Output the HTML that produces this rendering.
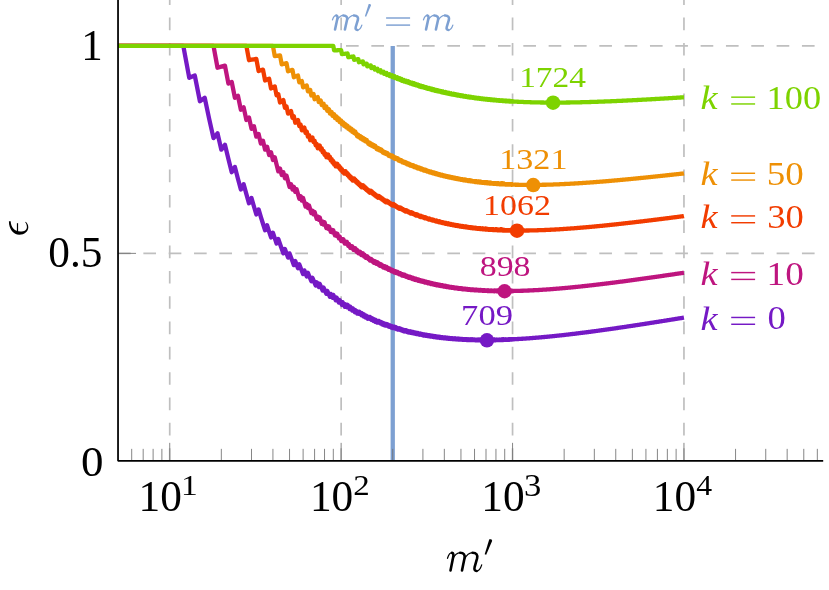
<!DOCTYPE html><html><head><meta charset="utf-8"><title>plot</title><style>html,body{margin:0;padding:0;background:#fff}svg{display:block;will-change:transform}text{font-family:"Liberation Serif",serif}</style></head><body>
<svg width="829" height="590" viewBox="0 0 829 590">
<rect width="829" height="590" fill="#fff"/>
<g stroke="#bfbfbf" stroke-width="1.7" stroke-dasharray="12.665 12.665" fill="none">
<path d="M169.73 460.85V-60"/>
<path d="M341.14 460.85V-60"/>
<path d="M512.55 460.85V-60"/>
<path d="M683.96 460.85V-60"/>
<path d="M118.03 253.38H823.2"/>
<path d="M118.03 45.90H823.2"/>
</g>
<path d="M392.74 45.90V460.85" stroke="#7da0d2" stroke-width="4.3" fill="none"/>
<g stroke="#707070" stroke-width="0.85" fill="none">
<path d="M131.70 460.85v-12M143.18 460.85v-12M153.12 460.85v-12M161.89 460.85v-12M221.33 460.85v-12M251.51 460.85v-12M272.93 460.85v-12M289.54 460.85v-12M303.11 460.85v-12M314.59 460.85v-12M324.53 460.85v-12M333.30 460.85v-12M392.74 460.85v-12M422.92 460.85v-12M444.34 460.85v-12M460.95 460.85v-12M474.52 460.85v-12M486.00 460.85v-12M495.94 460.85v-12M504.71 460.85v-12M564.15 460.85v-12M594.33 460.85v-12M615.75 460.85v-12M632.36 460.85v-12M645.93 460.85v-12M657.41 460.85v-12M667.35 460.85v-12M676.12 460.85v-12M735.56 460.85v-12M765.74 460.85v-12M787.16 460.85v-12M803.77 460.85v-12M817.34 460.85v-12"/>
</g>
<g stroke="#707070" stroke-width="0.85" fill="none">
<path d="M169.73 460.85v-18M341.14 460.85v-18M512.55 460.85v-18M683.96 460.85v-18M118.03 253.38h18M118.03 45.90h18"/>
</g>
<g fill="none" stroke-width="4.3" stroke-linejoin="round" stroke-linecap="butt">
<path stroke="#7519c5" d="M118.13,45.90 183.30,45.90 189.26,77.82 194.78,75.54 199.91,101.23 204.72,97.77 209.23,119.13 213.49,138.11 217.51,133.26 221.33,149.64 224.96,144.70 228.42,159.07 231.73,172.19 234.90,166.93 237.94,178.68 240.86,189.54 243.67,184.22 246.38,194.10 248.99,203.29 251.51,198.05 253.95,206.53 256.32,214.47 258.61,209.37 260.83,216.76 262.99,223.74 265.09,230.32 267.13,225.34 269.11,231.54 271.04,237.42 272.93,232.63 274.77,238.19 276.56,243.50 278.31,238.90 280.02,243.94 281.70,248.76 283.33,253.38 284.93,248.96 286.50,253.38 288.04,257.61 289.54,253.38 291.01,257.44 292.46,261.35 293.88,265.12 295.27,261.06 296.64,264.69 297.98,268.19 299.29,264.29 300.59,267.68 301.86,270.96 303.11,274.12 304.34,270.38 305.55,273.45 306.74,276.43 307.92,272.83 309.07,275.72 310.21,278.52 311.33,281.24 312.43,277.78 313.52,280.44 314.59,283.01 315.64,285.52 316.69,282.19 317.71,284.64 318.73,287.02 319.72,283.80 320.71,286.13 321.68,288.40 322.64,290.61 323.59,287.52 324.53,289.68 325.45,291.80 326.37,293.86 327.27,290.87 328.16,292.89 329.04,294.87 329.91,296.80 330.77,293.92 331.62,295.81 332.46,297.67 333.30,294.87 334.12,296.69 334.93,298.48 335.74,300.22 336.53,297.52 337.32,299.24 338.10,300.92 338.87,302.57 339.64,299.95 340.39,301.58 341.14,303.17 341.88,304.73 342.61,302.19 343.34,303.73 344.06,305.24 344.77,306.73 345.48,304.27 346.18,305.73 346.87,307.16 347.56,304.77 348.24,306.19 348.91,307.58 349.58,308.95 350.24,306.62 350.89,307.97 351.54,309.30 352.19,310.61 352.83,308.35 353.46,309.64 354.09,310.91 354.71,312.16 355.33,309.96 355.94,311.20 356.55,312.41 357.15,313.61 357.75,311.47 358.34,312.65 358.93,313.82 359.52,311.73 360.10,312.88 360.67,314.02 361.24,315.14 361.81,313.10 362.37,314.21 362.93,315.31 363.48,316.39 364.03,314.40 364.58,315.47 365.12,316.52 365.65,317.56 366.19,315.62 366.72,316.65 367.24,317.66 367.77,318.66 368.28,316.77 368.80,317.76 369.31,318.74 369.82,316.89 370.32,317.86 370.83,318.82 371.32,319.77 371.82,317.95 372.31,318.89 372.80,319.82 373.28,320.74 373.76,318.96 374.24,319.87 374.72,320.77 375.19,321.66 375.66,319.92 376.13,320.80 376.59,321.67 377.05,322.53 377.51,320.84 377.97,321.69 378.42,322.53 378.87,320.87 379.32,321.71 379.76,322.53 380.20,323.35 380.64,321.72 381.08,322.53 381.51,323.34 381.94,324.13 382.37,322.53 382.80,323.32 383.22,324.11 383.65,324.88 384.06,323.31 384.48,324.08 384.90,324.84 385.31,325.59 385.72,324.05 386.13,324.80 386.53,325.54 386.94,324.03 387.34,324.76 387.74,325.49 388.13,326.21 388.53,324.73 388.92,325.45 389.31,326.15 389.70,326.86 390.09,325.40 390.47,326.10 390.85,326.79 391.24,327.47 391.61,326.04 391.99,326.72 392.37,327.40 392.74,328.07 393.11,326.66 393.48,327.33 393.85,327.98 394.21,326.60 394.58,327.26 394.94,327.90 395.30,328.55 395.66,327.19 396.02,327.83 396.37,328.46 396.73,329.09 397.08,327.75 397.43,328.38 397.78,329.00 398.12,329.61 398.47,328.30 398.81,328.91 399.15,329.51 399.50,328.22 399.83,328.82 400.17,329.42 400.51,330.01 400.84,328.74 401.18,329.33 401.51,329.91 401.84,330.49 402.17,329.24 402.49,329.81 402.82,330.39 403.14,330.95 403.47,329.72 403.79,330.28 404.11,330.84 404.43,331.40 404.74,330.18 405.06,330.74 405.38,331.29 405.69,330.09 406.00,330.64 406.31,331.18 406.62,331.72 406.93,330.54 407.24,331.07 407.54,331.60 407.85,332.13 408.15,330.97 408.45,331.49 408.75,332.01 409.05,332.53 409.35,331.39 409.65,331.90 409.94,332.41 410.24,331.28 410.53,331.79 410.83,332.30 411.12,332.80 411.41,331.68 411.70,332.18 411.98,332.68 412.27,333.17 412.56,332.07 412.84,332.56 413.12,333.05 413.41,331.96 413.69,332.45 413.97,332.93 414.25,333.41 414.53,332.34 414.80,332.82 415.08,333.29 415.36,333.76 415.63,332.70 415.90,333.17 416.17,333.64 416.45,334.10 416.72,333.06 416.99,333.52 417.25,333.98 417.52,332.94 417.79,333.40 418.05,333.85 418.32,334.30 418.58,333.29 418.84,333.74 419.10,334.18 419.37,334.62 419.63,333.62 419.88,334.06 420.14,334.50 420.40,333.50 420.66,333.94 420.91,334.38 421.17,334.81 421.42,333.82 421.67,334.26 421.92,334.68 422.18,335.11 422.43,334.14 422.67,334.56 422.92,334.98 423.17,335.40 423.42,334.44 423.66,334.86 423.91,335.27 424.15,334.32 424.40,334.74 424.64,335.15 424.88,335.56 425.12,334.62 425.36,335.03 425.60,335.43 425.84,335.83 426.08,334.91 426.32,335.31 426.56,335.71 426.79,334.79 427.03,335.19 427.26,335.58 427.49,335.97 427.73,335.07 427.96,335.46 428.19,335.85 428.42,336.24 428.65,335.34 428.88,335.73 429.11,336.11 429.34,335.22 429.57,335.61 429.79,335.99 430.02,336.37 430.24,335.49 430.47,335.87 430.69,336.24 430.92,336.61 431.14,335.75 431.36,336.12 431.58,336.49 431.80,335.63 432.02,336.00 432.24,336.37 432.46,336.73 432.68,335.88 432.89,336.24 433.11,336.61 433.33,336.97 433.54,336.13 433.76,336.48 433.97,336.84 434.19,336.01 434.40,336.37 434.61,336.72 434.82,337.07 435.03,336.25 435.24,336.60 435.45,336.95 435.66,337.30 435.87,336.48 436.08,336.83 436.29,337.17 436.50,336.37 436.70,336.71 436.91,337.05 437.11,337.39 437.32,336.59 437.52,336.93 437.73,337.27 437.93,337.61 438.13,336.82 438.33,337.15 438.54,337.49 438.74,336.70 438.94,337.03 439.14,337.37 439.34,337.70 439.53,336.92 439.73,337.25 439.93,337.58 440.13,337.90 440.32,337.13 440.52,337.46 440.72,337.78 440.91,337.02 441.11,337.34 441.30,337.66 441.49,337.98 441.69,337.23 441.88,337.54 442.07,337.86 442.26,337.11 442.45,337.43 442.65,337.74 442.84,338.06 443.02,337.32 443.21,337.63 443.40,337.94 443.59,338.25 443.78,337.51 443.97,337.82 444.15,338.13 444.34,337.40 444.52,337.71 444.71,338.02 444.90,338.32 445.08,337.60 445.26,337.90 445.45,338.20 445.63,337.49 445.81,337.79 446.00,338.09 446.18,338.39 446.36,337.68 446.54,337.98 446.72,338.27 446.90,338.57 447.08,337.86 447.26,338.16 447.44,338.45 447.62,337.75 447.79,338.05 447.97,338.34 448.15,338.63 448.32,337.94 448.50,338.23 448.68,338.52 448.85,338.81 449.03,338.12 449.20,338.41 449.38,338.69 449.55,338.01 449.72,338.30 449.90,338.58 450.07,338.86 450.24,338.19 450.41,338.47 450.58,338.75 450.75,338.08 450.92,338.36 451.10,338.64 451.26,338.92 451.43,338.25 451.60,338.53 451.77,338.81 451.94,338.14 452.11,338.42 452.28,338.70 452.44,338.97 452.61,338.31 452.78,338.59 452.94,338.86 453.11,339.13 453.27,338.48 453.44,338.75 453.60,339.02 453.77,338.38 453.93,338.64 454.09,338.91 454.26,339.18 454.42,338.54 454.58,338.81 454.74,339.07 454.90,338.44 455.07,338.70 455.23,338.96 455.39,339.23 455.55,338.60 455.71,338.86 455.87,339.12 456.03,338.49 456.19,338.75 456.34,339.01 456.50,339.27 456.66,338.65 456.82,338.91 456.98,339.17 457.13,339.42 457.29,338.81 457.44,339.06 457.60,339.32 457.76,338.70 457.91,338.96 458.07,339.21 458.22,339.46 458.38,338.86 458.53,339.11 458.68,339.36 458.84,338.76 458.99,339.01 459.14,339.26 459.29,339.50 459.45,338.91 459.60,339.15 459.75,339.40 459.90,338.81 460.05,339.05 460.20,339.30 460.35,339.54 460.50,338.95 460.65,339.20 460.80,339.44 460.95,338.85 461.10,339.10 461.25,339.34 461.40,339.58 461.54,339.00 461.69,339.24 461.84,339.48 461.99,339.72 462.13,339.14 462.28,339.38 462.42,339.62 462.57,339.04 462.72,339.28 462.86,339.52 463.01,339.76 463.15,339.19 463.30,339.42 463.44,339.66 463.58,339.09 463.73,339.32 463.87,339.56 464.01,339.79 464.16,339.23 464.30,339.46 464.44,339.69 464.58,339.13 464.72,339.36 464.87,339.59 465.01,339.82 465.15,339.27 465.29,339.50 465.43,339.73 465.57,339.17 465.71,339.40 465.85,339.63 465.99,339.86 466.13,339.31 466.26,339.53 466.40,339.76 466.54,339.21 466.68,339.44 466.82,339.66 466.95,339.89 467.09,339.35 467.23,339.57 467.37,339.79 467.50,339.25 467.64,339.48 467.77,339.70 467.91,339.92 468.05,339.38 468.18,339.60 468.32,339.82 468.45,339.29 468.59,339.51 468.72,339.73 468.85,339.95 468.99,339.42 469.12,339.64 469.25,339.85 469.39,339.33 469.52,339.55 469.65,339.76 469.78,339.98 469.92,339.46 470.05,339.67 470.18,339.88 470.31,339.37 470.44,339.58 470.57,339.79 470.70,340.00 470.83,339.49 470.97,339.70 471.10,339.91 471.23,339.40 471.35,339.61 471.48,339.82 471.61,340.03 471.74,339.52 471.87,339.73 472.00,339.94 472.13,339.44 472.26,339.64 472.38,339.85 472.51,340.06 472.64,339.56 472.77,339.76 472.89,339.97 473.02,339.47 473.15,339.68 473.27,339.88 473.40,340.09 473.52,339.59 473.65,339.79 473.77,340.00 473.90,339.50 474.02,339.71 474.15,339.91 474.27,340.11 474.40,339.62 474.52,339.82 474.65,340.02 474.77,339.54 474.89,339.74 475.02,339.94 475.14,340.14 475.26,339.65 475.39,339.85 475.51,340.05 475.63,339.57 475.75,339.77 475.88,339.96 476.00,340.16 476.12,339.68 476.24,339.88 476.36,340.08 476.48,339.60 476.60,339.79 476.72,339.99 476.84,340.19 476.96,339.71 477.08,339.91 477.20,340.10 477.32,339.63 477.44,339.82 477.56,340.02 477.68,340.21 477.80,339.74 477.92,339.93 478.04,340.13 478.15,339.66 478.27,339.85 478.39,340.04 478.51,340.23 478.63,339.77 478.74,339.96 478.86,340.15 478.98,339.69 479.09,339.88 479.21,340.07 479.33,340.26 479.44,339.80 479.56,339.98 479.68,340.17 479.79,339.72 479.91,339.90 480.02,340.09 480.14,340.28 480.25,339.82 480.37,340.01 480.48,340.20 480.60,339.74 480.71,339.93 480.82,340.11 480.94,339.66 481.05,339.85 481.17,340.03 481.28,340.22 481.39,339.77 481.51,339.95 481.62,340.14 481.73,339.69 481.84,339.88 481.96,340.06 482.07,340.24 482.18,339.80 482.29,339.98 482.40,340.16 482.51,339.72 482.63,339.90 482.74,340.08 482.85,340.26 482.96,339.82 483.07,340.00 483.18,340.18 483.29,339.75 483.40,339.93 483.51,340.10 483.62,340.28 483.73,339.85 483.84,340.03 483.95,340.20 484.06,339.77 484.17,339.95 484.28,340.13 484.39,339.70 484.49,339.87 484.60,340.05 484.71,340.23 484.82,339.80 484.93,339.97 485.03,340.15 485.14,339.72 485.25,339.90 485.36,340.07 485.46,340.25 485.57,339.82 485.68,340.00 485.79,340.17 485.89,339.75 486.00,339.92 486.10,340.09 486.21,340.27 486.32,339.85 486.42,340.02 486.53,340.19 486.63,339.77 486.74,339.95 486.84,340.12 486.95,340.29 487.05,339.87 487.16,340.04 487.26,340.21 487.37,339.80 487.47,339.97 487.58,340.14 487.68,339.73 487.78,339.90 487.89,340.06 487.99,340.23 488.10,339.82 488.20,339.99 488.30,340.16 488.40,339.75 488.51,339.92 488.61,340.09 488.71,340.25 488.82,339.85 488.92,340.01 489.02,340.18 489.12,339.78 489.22,339.94 489.33,340.11 489.43,339.70 489.53,339.87 489.63,340.03 489.73,340.20 489.83,339.80 489.93,339.96 490.03,340.13 490.14,339.73 490.24,339.89 490.34,340.06 490.44,340.22 490.54,339.82 490.64,339.99 490.74,340.15 490.84,339.75 490.94,339.92 491.03,340.08 491.13,340.24 491.23,339.85 491.33,340.01 491.43,340.17 491.53,339.78 491.63,339.94 491.73,340.10 491.83,339.71 491.92,339.87 492.02,340.03 492.12,340.19 492.22,339.80 492.32,339.96 492.41,340.12 492.51,339.73 492.61,339.89 492.71,340.05 492.80,340.21 492.90,339.82 493.00,339.98 493.09,340.14 493.19,339.76 493.29,339.91 493.38,340.07 493.48,339.69 493.58,339.85 493.67,340.00 493.77,340.16 493.86,339.78 493.96,339.93 494.05,340.09 494.15,339.71 494.24,339.87 494.34,340.02 494.43,340.18 494.53,339.80 494.62,339.95 494.72,340.11 494.81,339.74 494.91,339.89 495.00,340.04 495.10,339.67 495.19,339.82 495.28,339.98 495.38,340.13 495.47,339.76 495.57,339.91 495.66,340.06 495.75,339.69 495.85,339.84 495.94,340.00 496.03,340.15 496.12,339.78 496.22,339.93 496.31,340.08 496.40,339.72 496.49,339.87 496.59,340.02 496.68,339.65 496.77,339.80 496.86,339.95 496.96,340.10 497.05,339.74 497.14,339.89 497.23,340.04 497.32,339.67 497.41,339.82 497.50,339.97 497.60,339.61 497.69,339.76 497.78,339.91 497.87,340.05 497.96,339.70 498.05,339.84 498.14,339.99 498.23,339.63 498.32,339.78 498.41,339.93 498.50,340.07 498.59,339.72 498.68,339.86 498.77,340.01 498.86,339.66 498.95,339.80 499.04,339.95 499.13,339.60 499.22,339.74 499.30,339.88 499.39,340.03 499.48,339.68 499.57,339.82 499.66,339.97 499.75,339.62 499.84,339.76 499.92,339.90 500.01,339.56 500.10,339.70 500.19,339.84 500.28,339.99 500.36,339.64 500.45,339.78 500.54,339.92 500.63,339.58 500.71,339.72 500.80,339.86 500.89,340.00 500.98,339.66 501.06,339.80 501.15,339.94 501.24,339.60 501.32,339.74 501.41,339.88 501.50,339.54 501.58,339.68 501.67,339.82 501.75,339.96 501.84,339.62 501.93,339.76 502.01,339.90 502.10,339.56 502.18,339.70 502.27,339.84 502.35,339.51 502.44,339.64 502.52,339.78 502.61,339.92 502.69,339.59 502.78,339.72 502.86,339.86 502.95,339.53 503.03,339.67 503.12,339.80 503.20,339.47 503.29,339.61 503.37,339.74 503.46,339.88 503.54,339.55 503.62,339.69 503.71,339.82 503.79,339.49 503.87,339.63 503.96,339.76 504.04,339.44 504.13,339.57 504.21,339.71 504.29,339.84 504.38,339.51 504.46,339.65 504.54,339.78 504.62,339.46 504.71,339.59 504.79,339.73 504.87,339.86 504.95,339.54 505.04,339.67 505.12,339.80 505.20,339.48 505.28,339.61 505.37,339.75 505.45,339.42 505.53,339.56 505.61,339.69 505.69,339.82 505.77,339.50 505.86,339.63 505.94,339.77 506.02,339.45 506.10,339.58 506.18,339.71 506.26,339.39 506.34,339.52 506.42,339.65 506.50,339.79 506.59,339.47 506.67,339.60 506.75,339.73 506.83,339.41 506.91,339.54 506.99,339.67 507.07,339.36 507.15,339.49 507.23,339.62 507.31,339.75 507.39,339.43 507.47,339.56 507.55,339.69 507.63,339.38 507.71,339.51 507.79,339.64 507.86,339.33 507.94,339.46 508.02,339.58 508.10,339.71 508.18,339.40 508.26,339.53 508.34,339.66 508.42,339.35 508.50,339.48 508.57,339.60 508.65,339.29 508.73,339.42 508.81,339.55 508.89,339.68 508.97,339.37 509.04,339.50 509.12,339.62 509.20,339.32 509.28,339.44 509.36,339.57 509.43,339.26 509.51,339.39 509.59,339.52 509.67,339.64 509.74,339.34 509.82,339.46 509.90,339.59 509.97,339.29 510.05,339.41 510.13,339.54 510.21,339.23 510.28,339.36 510.36,339.48 510.44,339.61 510.51,339.31 510.59,339.43 510.67,339.56 510.74,339.26 510.82,339.38 510.89,339.50 510.97,339.20 511.05,339.33 511.12,339.45 511.20,339.58 511.27,339.28 511.35,339.40 511.42,339.52 511.50,339.23 511.58,339.35 511.65,339.47 511.73,339.18 511.80,339.30 511.88,339.42 511.95,339.13 512.03,339.25 512.10,339.37 512.18,339.49 512.25,339.20 512.33,339.32 512.40,339.44 512.48,339.15 512.55,339.27 512.92,339.28 513.55,339.25 514.13,339.24 514.71,339.18 515.33,339.19 515.93,339.12 516.54,339.10 517.13,339.07 517.73,339.01 518.35,339.00 518.93,338.93 519.51,338.91 520.12,338.90 520.72,338.85 521.32,338.80 521.91,338.76 522.50,338.75 523.12,338.69 523.73,338.64 524.33,338.61 524.93,338.58 525.53,338.54 526.12,338.48 526.71,338.44 527.32,338.42 527.93,338.37 528.53,338.32 529.13,338.27 529.72,338.23 530.31,338.18 530.93,338.13 531.53,338.09 532.14,338.06 532.74,337.99 533.33,337.95 533.92,337.91 534.50,337.85 535.11,337.82 535.71,337.76 536.31,337.70 536.90,337.67 537.52,337.59 538.13,337.54 538.73,337.52 539.33,337.44 539.93,337.40 540.54,337.35 541.13,337.30 541.71,337.23 542.31,337.19 542.91,337.14 543.52,337.07 544.13,337.01 544.72,336.99 545.32,336.91 545.94,336.84 546.53,336.82 547.12,336.74 547.72,336.68 548.32,336.63 548.92,336.56 549.51,336.51 550.12,336.44 550.73,336.38 551.32,336.34 551.92,336.28 552.51,336.19 553.12,336.16 553.72,336.07 554.32,336.04 554.93,335.95 555.54,335.89 556.12,335.85 556.72,335.75 557.33,335.72 557.92,335.64 558.51,335.59 559.11,335.51 559.72,335.45 560.33,335.39 560.92,335.32 561.52,335.27 562.13,335.18 562.72,335.12 563.31,335.05 563.93,335.00 564.54,334.91 565.13,334.86 565.73,334.79 566.33,334.71 566.93,334.66 567.53,334.56 568.14,334.53 568.73,334.43 569.33,334.38 569.93,334.31 570.53,334.21 571.13,334.18 571.73,334.09 572.34,334.00 572.93,333.97 573.53,333.87 574.13,333.79 574.73,333.74 575.33,333.67 575.93,333.57 576.53,333.50 577.13,333.45 577.72,333.37 578.32,333.28 578.92,333.20 579.51,333.16 580.12,333.08 580.72,332.99 581.32,332.91 581.93,332.83 582.53,332.75 583.13,332.68 583.74,332.63 584.34,332.55 584.93,332.47 585.52,332.39 586.12,332.31 586.72,332.24 587.33,332.16 587.92,332.08 588.53,332.01 589.13,331.93 589.73,331.85 590.33,331.78 590.93,331.67 591.53,331.58 592.13,331.51 592.73,331.44 593.32,331.37 593.92,331.30 594.52,331.19 595.12,331.11 595.72,331.04 596.32,330.98 596.92,330.86 597.53,330.79 598.13,330.73 598.73,330.62 599.32,330.55 599.92,330.46 600.53,330.38 601.12,330.30 601.72,330.22 602.33,330.13 602.92,330.05 603.52,329.97 604.12,329.89 604.73,329.79 605.33,329.72 605.93,329.64 606.53,329.54 607.13,329.46 607.72,329.38 608.32,329.30 608.92,329.20 609.52,329.12 610.12,329.04 610.73,328.95 611.33,328.87 611.93,328.78 612.53,328.69 613.13,328.61 613.73,328.52 614.33,328.44 614.93,328.35 615.53,328.26 616.13,328.18 616.73,328.09 617.33,328.00 617.93,327.92 618.53,327.82 619.12,327.74 619.73,327.65 620.32,327.56 620.92,327.47 621.53,327.38 622.13,327.30 622.73,327.21 623.32,327.12 623.93,327.03 624.53,326.94 625.13,326.85 625.73,326.76 626.33,326.67 626.93,326.58 627.52,326.49 628.13,326.40 628.72,326.31 629.32,326.22 629.92,326.13 630.52,326.05 631.12,325.95 631.72,325.86 632.32,325.77 632.92,325.68 633.53,325.59 634.13,325.50 634.73,325.40 635.33,325.31 635.93,325.22 636.52,325.13 637.12,325.04 637.72,324.95 638.32,324.86 638.92,324.77 639.52,324.67 640.13,324.58 640.73,324.49 641.33,324.40 641.92,324.30 642.52,324.21 643.13,324.12 643.73,324.02 644.33,323.93 644.93,323.84 645.53,323.75 646.12,323.65 646.72,323.56 647.32,323.47 647.92,323.37 648.52,323.28 649.13,323.18 649.73,323.09 650.33,322.99 650.93,322.90 651.53,322.81 652.13,322.71 652.72,322.62 653.33,322.53 653.92,322.43 654.52,322.34 655.12,322.24 655.72,322.15 656.33,322.05 656.92,321.96 657.52,321.86 658.13,321.77 658.73,321.67 659.32,321.58 659.92,321.48 660.52,321.39 661.13,321.29 661.73,321.19 662.33,321.10 662.93,321.00 663.53,320.91 664.13,320.81 664.73,320.72 665.33,320.62 665.93,320.52 666.53,320.43 667.12,320.33 667.72,320.24 668.32,320.14 668.93,320.04 669.53,319.95 670.12,319.85 670.72,319.75 671.32,319.66 671.92,319.56 672.52,319.46 673.12,319.37 673.73,319.27 674.33,319.17 674.92,319.08 675.52,318.98 676.12,318.88 676.73,318.79 677.33,318.69 677.93,318.59 678.53,318.49 679.12,318.40 679.72,318.30 680.33,318.20 680.92,318.10 681.53,318.01 682.12,317.91 682.73,317.81 683.33,317.71 683.80,317.64 683.96,317.61"/>
<path stroke="#be157f" d="M118.13,45.90 213.49,45.90 217.51,67.74 221.33,66.65 224.96,65.66 228.42,83.62 231.73,81.98 234.90,97.77 237.94,95.69 240.86,109.74 243.67,107.37 246.38,120.00 248.99,117.44 251.51,128.89 253.95,126.21 256.32,136.67 258.61,133.92 260.83,143.54 262.99,140.75 265.09,149.64 267.13,146.83 269.11,155.10 271.04,152.30 272.93,160.01 274.77,157.23 276.56,164.46 278.31,171.35 280.02,168.50 281.70,175.00 283.33,172.19 284.93,178.33 286.50,175.57 288.04,181.39 289.54,186.98 291.01,184.22 292.46,189.54 293.88,186.83 295.27,191.90 296.64,189.25 297.98,194.10 299.29,198.78 300.59,196.14 301.86,200.63 303.11,198.05 304.34,202.36 305.55,206.53 306.74,203.98 307.92,207.99 309.07,205.50 310.21,209.37 311.33,213.12 312.43,210.66 313.52,214.29 314.59,211.88 315.64,215.39 316.69,218.80 317.71,216.43 318.73,219.73 319.72,217.41 320.71,220.62 321.68,223.74 322.64,221.46 323.59,224.49 324.53,222.25 325.45,225.20 326.37,228.07 327.27,225.88 328.16,228.68 329.04,226.53 329.91,229.25 330.77,231.91 331.62,229.80 332.46,232.39 333.30,230.32 334.12,232.86 334.93,235.33 335.74,233.30 336.53,235.72 337.32,233.72 338.10,236.09 338.87,238.40 339.64,236.44 340.39,238.71 341.14,240.93 341.88,239.00 342.61,241.17 343.34,239.27 344.06,241.41 344.77,243.50 345.48,241.63 346.18,243.68 346.87,241.85 347.56,243.86 348.24,245.83 348.91,244.03 349.58,245.97 350.24,247.87 350.89,246.10 351.54,247.96 352.19,246.22 352.83,248.06 353.46,249.86 354.09,248.14 354.71,249.92 355.33,248.23 355.94,249.97 356.55,251.69 357.15,250.03 357.75,251.72 358.34,253.38 358.93,251.74 359.52,253.38 360.10,251.77 360.67,253.38 361.24,254.96 361.81,253.38 362.37,254.93 362.93,253.38 363.48,254.91 364.03,256.43 364.58,254.89 365.12,256.38 365.65,257.85 366.19,256.34 366.72,257.79 367.24,256.30 367.77,257.73 368.28,259.14 368.80,257.67 369.31,259.06 369.82,260.43 370.32,258.98 370.83,260.34 371.32,258.91 371.82,260.25 372.31,261.56 372.80,260.16 373.28,261.46 373.76,262.74 374.24,261.35 374.72,262.63 375.19,261.25 375.66,262.51 376.13,263.75 376.59,262.40 377.05,263.62 377.51,262.28 377.97,263.50 378.42,264.69 378.87,263.37 379.32,264.56 379.76,265.72 380.20,264.42 380.64,265.58 381.08,264.29 381.51,265.44 381.94,266.57 382.37,265.30 382.80,266.42 383.22,267.52 383.65,266.27 384.06,267.36 384.48,266.12 384.90,267.21 385.31,268.28 385.72,267.05 386.13,268.11 386.53,266.91 386.94,267.95 387.34,268.99 387.74,267.80 388.13,268.83 388.53,269.84 388.92,268.66 389.31,269.67 389.70,268.50 390.09,269.50 390.47,270.49 390.85,269.33 391.24,270.31 391.61,271.28 391.99,270.14 392.37,271.10 392.74,269.97 393.11,270.92 393.48,271.86 393.85,270.75 394.21,271.68 394.58,272.60 394.94,271.50 395.30,272.42 395.66,271.33 396.02,272.24 396.37,273.13 396.73,272.06 397.08,272.95 397.43,271.88 397.78,272.77 398.12,273.64 398.47,272.59 398.81,273.45 399.15,274.31 399.50,273.27 399.83,274.12 400.17,273.09 400.51,273.94 400.84,274.77 401.18,273.75 401.51,274.58 401.84,275.41 402.17,274.40 402.49,275.21 402.82,274.21 403.14,275.02 403.47,275.83 403.79,274.84 404.11,275.64 404.43,274.65 404.74,275.45 405.06,276.23 405.38,275.26 405.69,276.04 406.00,276.81 406.31,275.85 406.62,276.62 406.93,275.67 407.24,276.43 407.54,277.18 407.85,276.24 408.15,276.99 408.45,277.73 408.75,276.80 409.05,277.54 409.35,276.61 409.65,277.35 409.94,278.07 410.24,277.16 410.53,277.88 410.83,276.97 411.12,277.69 411.41,278.40 411.70,277.50 411.98,278.21 412.27,278.91 412.56,278.02 412.84,278.72 413.12,277.83 413.41,278.52 413.69,279.21 413.97,278.33 414.25,279.02 414.53,279.70 414.80,278.83 415.08,279.50 415.36,278.64 415.63,279.31 415.90,279.97 416.17,279.12 416.45,279.78 416.72,278.93 416.99,279.59 417.25,280.24 417.52,279.40 417.79,280.05 418.05,280.69 418.32,279.86 418.58,280.50 418.84,279.67 419.10,280.31 419.37,280.94 419.63,280.12 419.88,280.75 420.14,279.94 420.40,280.56 420.66,281.18 420.91,280.38 421.17,280.99 421.42,281.60 421.67,280.80 421.92,281.41 422.18,280.62 422.43,281.22 422.67,281.82 422.92,281.04 423.17,281.64 423.42,280.86 423.66,281.45 423.91,282.04 424.15,281.27 424.40,281.85 424.64,282.44 424.88,281.67 425.12,282.25 425.36,281.48 425.60,282.06 425.84,282.63 426.08,281.88 426.32,282.45 426.56,281.70 426.79,282.26 427.03,282.83 427.26,282.08 427.49,282.64 427.73,283.20 427.96,282.46 428.19,283.01 428.42,282.28 428.65,282.83 428.88,283.38 429.11,282.65 429.34,283.20 429.57,282.47 429.79,283.01 430.02,283.55 430.24,282.84 430.47,283.37 430.69,283.90 430.92,283.19 431.14,283.72 431.36,283.01 431.58,283.54 431.80,284.07 432.02,283.36 432.24,283.89 432.46,283.19 432.68,283.71 432.89,284.22 433.11,283.53 433.33,284.05 433.54,284.56 433.76,283.87 433.97,284.38 434.19,283.69 434.40,284.20 434.61,284.70 434.82,284.02 435.03,284.53 435.24,283.85 435.45,284.35 435.66,284.85 435.87,284.18 436.08,284.67 436.29,285.16 436.50,284.50 436.70,284.98 436.91,284.32 437.11,284.81 437.32,285.29 437.52,284.64 437.73,285.12 437.93,284.47 438.13,284.95 438.33,285.42 438.54,284.78 438.74,285.25 438.94,284.61 439.14,285.08 439.34,285.55 439.53,284.91 439.73,285.38 439.93,285.84 440.13,285.21 440.32,285.67 440.52,285.04 440.72,285.50 440.91,285.96 441.11,285.34 441.30,285.79 441.49,285.17 441.69,285.62 441.88,286.08 442.07,285.46 442.26,285.91 442.45,285.29 442.65,285.74 442.84,286.19 443.02,285.58 443.21,286.02 443.40,286.47 443.59,285.86 443.78,286.30 443.97,285.70 444.15,286.13 444.34,286.57 444.52,285.97 444.71,286.41 444.90,285.81 445.08,286.24 445.26,286.67 445.45,286.08 445.63,286.51 445.81,285.92 446.00,286.35 446.18,286.77 446.36,286.19 446.54,286.61 446.72,287.03 446.90,286.45 447.08,286.87 447.26,286.29 447.44,286.71 447.62,287.13 447.79,286.55 447.97,286.97 448.15,286.39 448.32,286.81 448.50,287.22 448.68,286.65 448.85,287.06 449.03,286.49 449.20,286.90 449.38,287.31 449.55,286.75 449.72,287.15 449.90,287.55 450.07,286.99 450.24,287.40 450.41,286.84 450.58,287.24 450.75,287.64 450.92,287.08 451.10,287.48 451.26,286.93 451.43,287.33 451.60,287.72 451.77,287.17 451.94,287.56 452.11,287.02 452.28,287.41 452.44,287.80 452.61,287.26 452.78,287.65 452.94,287.11 453.11,287.49 453.27,287.88 453.44,287.34 453.60,287.73 453.77,288.11 453.93,287.57 454.09,287.95 454.26,287.42 454.42,287.80 454.58,288.18 454.74,287.65 454.90,288.03 455.07,287.51 455.23,287.88 455.39,288.25 455.55,287.73 455.71,288.10 455.87,287.58 456.03,287.95 456.19,288.32 456.34,287.81 456.50,288.17 456.66,287.66 456.82,288.03 456.98,288.39 457.13,287.88 457.29,288.24 457.44,288.61 457.60,288.10 457.76,288.46 457.91,287.95 458.07,288.31 458.22,288.67 458.38,288.17 458.53,288.53 458.68,288.03 458.84,288.38 458.99,288.74 459.14,288.24 459.29,288.59 459.45,288.10 459.60,288.45 459.75,288.80 459.90,288.30 460.05,288.65 460.20,288.16 460.35,288.51 460.50,288.86 460.65,288.37 460.80,288.72 460.95,288.23 461.10,288.58 461.25,288.92 461.40,288.44 461.54,288.78 461.69,288.30 461.84,288.64 461.99,288.98 462.13,288.50 462.28,288.84 462.42,289.17 462.57,288.70 462.72,289.03 462.86,288.56 463.01,288.90 463.15,289.23 463.30,288.76 463.44,289.09 463.58,288.62 463.73,288.95 463.87,289.28 464.01,288.82 464.16,289.15 464.30,288.68 464.44,289.01 464.58,289.34 464.72,288.87 464.87,289.20 465.01,288.74 465.15,289.07 465.29,289.39 465.43,288.93 465.57,289.25 465.71,288.80 465.85,289.12 465.99,289.44 466.13,288.99 466.26,289.31 466.40,288.85 466.54,289.17 466.68,289.49 466.82,289.04 466.95,289.36 467.09,288.91 467.23,289.23 467.37,289.54 467.50,289.09 467.64,289.41 467.77,289.72 467.91,289.28 468.05,289.59 468.18,289.15 468.32,289.46 468.45,289.77 468.59,289.33 468.72,289.64 468.85,289.20 468.99,289.51 469.12,289.81 469.25,289.38 469.39,289.68 469.52,289.25 469.65,289.55 469.78,289.86 469.92,289.43 470.05,289.73 470.18,289.30 470.31,289.60 470.44,289.90 470.57,289.47 470.70,289.77 470.83,289.35 470.97,289.65 471.10,289.95 471.23,289.52 471.35,289.82 471.48,289.39 471.61,289.69 471.74,289.99 471.87,289.57 472.00,289.86 472.13,289.44 472.26,289.74 472.38,290.03 472.51,289.61 472.64,289.90 472.77,289.49 472.89,289.78 473.02,290.07 473.15,289.66 473.27,289.95 473.40,289.53 473.52,289.82 473.65,290.11 473.77,289.70 473.90,289.99 474.02,289.58 474.15,289.87 474.27,290.15 474.40,289.74 474.52,290.03 474.65,289.62 474.77,289.91 474.89,290.19 475.02,289.79 475.14,290.07 475.26,289.67 475.39,289.95 475.51,290.23 475.63,289.83 475.75,290.11 475.88,289.71 476.00,289.99 476.12,290.27 476.24,289.87 476.36,290.15 476.48,289.75 476.60,290.03 476.72,290.30 476.84,289.91 476.96,290.19 477.08,289.79 477.20,290.07 477.32,290.34 477.44,289.95 477.56,290.22 477.68,289.83 477.80,290.11 477.92,290.38 478.04,289.99 478.15,290.26 478.27,289.87 478.39,290.14 478.51,290.41 478.63,290.03 478.74,290.30 478.86,289.91 478.98,290.18 479.09,290.45 479.21,290.06 479.33,290.33 479.44,290.60 479.56,290.22 479.68,290.48 479.79,290.10 479.91,290.37 480.02,290.63 480.14,290.25 480.25,290.52 480.37,290.14 480.48,290.40 480.60,290.03 480.71,290.29 480.82,290.55 480.94,290.17 481.05,290.44 481.17,290.06 481.28,290.32 481.39,290.58 481.51,290.21 481.62,290.47 481.73,290.10 481.84,290.36 481.96,290.61 482.07,290.25 482.18,290.50 482.29,290.13 482.40,290.39 482.51,290.65 482.63,290.28 482.74,290.53 482.85,290.17 482.96,290.42 483.07,290.68 483.18,290.31 483.29,290.57 483.40,290.20 483.51,290.46 483.62,290.71 483.73,290.35 483.84,290.60 483.95,290.24 484.06,290.49 484.17,290.74 484.28,290.38 484.39,290.63 484.49,290.27 484.60,290.52 484.71,290.77 484.82,290.41 484.93,290.66 485.03,290.31 485.14,290.55 485.25,290.80 485.36,290.45 485.46,290.69 485.57,290.34 485.68,290.58 485.79,290.83 485.89,290.48 486.00,290.72 486.10,290.37 486.21,290.61 486.32,290.86 486.42,290.51 486.53,290.75 486.63,290.40 486.74,290.64 486.84,290.88 486.95,290.54 487.05,290.78 487.16,290.43 487.26,290.67 487.37,290.91 487.47,290.57 487.58,290.81 487.68,290.47 487.78,290.70 487.89,290.94 487.99,290.60 488.10,290.84 488.20,290.50 488.30,290.73 488.40,290.97 488.51,290.63 488.61,290.86 488.71,290.53 488.82,290.76 488.92,290.99 489.02,290.66 489.12,290.89 489.22,290.56 489.33,290.79 489.43,291.02 489.53,290.69 489.63,290.92 489.73,290.59 489.83,290.82 489.93,291.05 490.03,290.71 490.14,290.94 490.24,290.61 490.34,290.84 490.44,291.07 490.54,290.74 490.64,290.97 490.74,290.64 490.84,290.87 490.94,290.54 491.03,290.77 491.13,291.00 491.23,290.67 491.33,290.90 491.43,290.57 491.53,290.80 491.63,291.02 491.73,290.70 491.83,290.92 491.92,290.60 492.02,290.82 492.12,291.05 492.22,290.73 492.32,290.95 492.41,290.63 492.51,290.85 492.61,291.07 492.71,290.75 492.80,290.97 492.90,290.66 493.00,290.88 493.09,291.10 493.19,290.78 493.29,291.00 493.38,290.68 493.48,290.90 493.58,291.12 493.67,290.81 493.77,291.02 493.86,290.71 493.96,290.93 494.05,291.15 494.15,290.83 494.24,291.05 494.34,290.74 494.43,290.95 494.53,291.17 494.62,290.86 494.72,291.07 494.81,290.76 494.91,290.98 495.00,290.67 495.10,290.88 495.19,291.10 495.28,290.79 495.38,291.00 495.47,290.69 495.57,290.91 495.66,291.12 495.75,290.81 495.85,291.03 495.94,290.72 496.03,290.93 496.12,291.14 496.22,290.84 496.31,291.05 496.40,290.75 496.49,290.96 496.59,291.17 496.68,290.86 496.77,291.07 496.86,290.77 496.96,290.98 497.05,291.19 497.14,290.89 497.23,291.10 497.32,290.80 497.41,291.01 497.50,291.21 497.60,290.91 497.69,291.12 497.78,290.82 497.87,291.03 497.96,290.73 498.05,290.94 498.14,291.14 498.23,290.85 498.32,291.05 498.41,290.76 498.50,290.96 498.59,291.17 498.68,290.87 498.77,291.08 498.86,290.78 498.95,290.98 499.04,291.19 499.13,290.89 499.22,291.10 499.30,290.80 499.39,291.01 499.48,291.21 499.57,290.92 499.66,291.12 499.75,290.83 499.84,291.03 499.92,291.23 500.01,290.94 500.10,291.14 500.19,290.85 500.28,291.05 500.36,291.25 500.45,290.96 500.54,291.16 500.63,290.88 500.71,291.08 500.80,290.79 500.89,290.99 500.98,291.19 501.06,290.90 501.15,291.10 501.24,290.81 501.32,291.01 501.41,291.21 501.50,290.92 501.58,291.12 501.67,290.84 501.75,291.03 501.84,291.23 501.93,290.95 502.01,291.14 502.10,290.86 502.18,291.05 502.27,291.25 502.35,290.97 502.44,291.16 502.52,290.88 502.61,291.08 502.69,290.80 502.78,290.99 502.86,291.18 502.95,290.90 503.03,291.10 503.12,290.82 503.20,291.01 503.29,291.20 503.37,290.93 503.46,291.12 503.54,290.84 503.62,291.03 503.71,291.23 503.79,290.95 503.87,291.14 503.96,290.86 504.04,291.06 504.13,291.25 504.21,290.97 504.29,291.16 504.38,290.89 504.46,291.08 504.54,291.27 504.62,290.99 504.71,291.18 504.79,290.91 504.87,291.10 504.95,290.83 505.04,291.01 505.12,291.20 505.20,290.93 505.28,291.12 505.37,290.85 505.45,291.04 505.53,291.22 505.61,290.95 505.69,291.14 505.77,290.87 505.86,291.06 505.94,291.24 506.02,290.97 506.10,291.16 506.18,290.89 506.26,291.08 506.34,290.81 506.42,291.00 506.50,291.18 506.59,290.91 506.67,291.10 506.75,290.83 506.83,291.02 506.91,291.20 506.99,290.94 507.07,291.12 507.15,290.85 507.23,291.04 507.31,291.22 507.39,290.96 507.47,291.14 507.55,290.88 507.63,291.06 507.71,291.24 507.79,290.98 507.86,291.16 507.94,290.90 508.02,291.08 508.10,290.82 508.18,291.00 508.26,291.18 508.34,290.92 508.42,291.10 508.50,290.84 508.57,291.02 508.65,291.20 508.73,290.94 508.81,291.12 508.89,290.86 508.97,291.04 509.04,291.22 509.12,290.96 509.20,291.14 509.28,290.88 509.36,291.06 509.43,290.80 509.51,290.98 509.59,291.16 509.67,290.90 509.74,291.08 509.82,290.82 509.90,291.00 509.97,291.18 510.05,290.92 510.13,291.10 510.21,290.84 510.28,291.02 510.36,291.19 510.44,290.94 510.51,291.12 510.59,290.87 510.67,291.04 510.74,291.21 510.82,290.96 510.89,291.14 510.97,290.89 511.05,291.06 511.12,290.81 511.20,290.98 511.27,291.16 511.35,290.91 511.42,291.08 511.50,290.83 511.58,291.00 511.65,291.17 511.73,290.93 511.80,291.10 511.88,290.85 511.95,291.02 512.03,291.19 512.10,290.95 512.18,291.12 512.25,290.87 512.33,291.04 512.40,290.80 512.48,290.97 512.55,291.14 512.92,290.97 513.55,290.99 514.13,290.95 514.71,290.91 515.33,290.95 515.93,290.89 516.54,290.94 517.13,290.88 517.73,290.88 518.35,290.89 518.93,290.84 519.51,290.83 520.12,290.84 520.72,290.76 521.32,290.77 521.91,290.78 522.50,290.75 523.12,290.73 523.73,290.71 524.33,290.69 524.93,290.64 525.53,290.65 526.12,290.61 526.71,290.62 527.32,290.55 527.93,290.52 528.53,290.52 529.13,290.49 529.72,290.46 530.31,290.42 530.93,290.39 531.53,290.37 532.14,290.36 532.74,290.31 533.33,290.27 533.92,290.26 534.50,290.21 535.11,290.18 535.71,290.17 536.31,290.14 536.90,290.08 537.52,290.04 538.13,290.03 538.73,289.99 539.33,289.98 539.93,289.91 540.54,289.89 541.13,289.84 541.71,289.81 542.31,289.77 542.91,289.71 543.52,289.69 544.13,289.64 544.72,289.60 545.32,289.58 545.94,289.53 546.53,289.48 547.12,289.46 547.72,289.41 548.32,289.35 548.92,289.31 549.51,289.29 550.12,289.24 550.73,289.19 551.32,289.14 551.92,289.08 552.51,289.04 553.12,289.00 553.72,288.95 554.32,288.90 554.93,288.86 555.54,288.80 556.12,288.76 556.72,288.71 557.33,288.67 557.92,288.62 558.51,288.57 559.11,288.54 559.72,288.45 560.33,288.41 560.92,288.37 561.52,288.32 562.13,288.26 562.72,288.22 563.31,288.16 563.93,288.09 564.54,288.05 565.13,287.99 565.73,287.95 566.33,287.88 566.93,287.82 567.53,287.77 568.14,287.71 568.73,287.66 569.33,287.60 569.93,287.55 570.53,287.49 571.13,287.43 571.73,287.37 572.34,287.32 572.93,287.26 573.53,287.19 574.13,287.14 574.73,287.08 575.33,287.01 575.93,286.95 576.53,286.89 577.13,286.83 577.72,286.77 578.32,286.71 578.92,286.65 579.51,286.58 580.12,286.52 580.72,286.47 581.32,286.40 581.93,286.33 582.53,286.26 583.13,286.20 583.74,286.14 584.34,286.08 584.93,286.01 585.52,285.94 586.12,285.88 586.72,285.82 587.33,285.75 587.92,285.68 588.53,285.62 589.13,285.54 589.73,285.48 590.33,285.41 590.93,285.34 591.53,285.28 592.13,285.21 592.73,285.14 593.32,285.07 593.92,285.00 594.52,284.94 595.12,284.87 595.72,284.80 596.32,284.72 596.92,284.65 597.53,284.58 598.13,284.51 598.73,284.44 599.32,284.37 599.92,284.30 600.53,284.22 601.12,284.16 601.72,284.08 602.33,284.01 602.92,283.94 603.52,283.86 604.12,283.79 604.73,283.72 605.33,283.65 605.93,283.57 606.53,283.49 607.13,283.43 607.72,283.35 608.32,283.28 608.92,283.20 609.52,283.13 610.12,283.05 610.73,282.98 611.33,282.90 611.93,282.82 612.53,282.75 613.13,282.67 613.73,282.60 614.33,282.52 614.93,282.44 615.53,282.37 616.13,282.29 616.73,282.21 617.33,282.13 617.93,282.05 618.53,281.98 619.12,281.90 619.73,281.82 620.32,281.74 620.92,281.67 621.53,281.59 622.13,281.51 622.73,281.43 623.32,281.35 623.93,281.27 624.53,281.19 625.13,281.11 625.73,281.03 626.33,280.95 626.93,280.87 627.52,280.79 628.13,280.71 628.72,280.63 629.32,280.55 629.92,280.47 630.52,280.39 631.12,280.31 631.72,280.23 632.32,280.15 632.92,280.06 633.53,279.98 634.13,279.90 634.73,279.82 635.33,279.74 635.93,279.65 636.52,279.57 637.12,279.49 637.72,279.41 638.32,279.32 638.92,279.24 639.52,279.16 640.13,279.07 640.73,278.99 641.33,278.91 641.92,278.83 642.52,278.74 643.13,278.66 643.73,278.57 644.33,278.49 644.93,278.40 645.53,278.32 646.12,278.24 646.72,278.15 647.32,278.07 647.92,277.99 648.52,277.90 649.13,277.82 649.73,277.73 650.33,277.65 650.93,277.56 651.53,277.47 652.13,277.39 652.72,277.30 653.33,277.22 653.92,277.13 654.52,277.05 655.12,276.96 655.72,276.87 656.33,276.79 656.92,276.70 657.52,276.62 658.13,276.53 658.73,276.44 659.32,276.36 659.92,276.27 660.52,276.18 661.13,276.10 661.73,276.01 662.33,275.92 662.93,275.84 663.53,275.75 664.13,275.66 664.73,275.57 665.33,275.49 665.93,275.40 666.53,275.31 667.12,275.23 667.72,275.14 668.32,275.05 668.93,274.96 669.53,274.87 670.12,274.79 670.72,274.70 671.32,274.61 671.92,274.52 672.52,274.43 673.12,274.35 673.73,274.26 674.33,274.17 674.92,274.08 675.52,273.99 676.12,273.91 676.73,273.82 677.33,273.73 677.93,273.64 678.53,273.55 679.12,273.46 679.72,273.37 680.33,273.28 680.92,273.19 681.53,273.10 682.12,273.02 682.73,272.93 683.33,272.84 683.80,272.77 683.96,272.75"/>
<path stroke="#f23c00" d="M118.13,45.90 246.38,45.90 248.99,60.21 251.51,59.73 253.95,59.29 256.32,58.87 258.61,71.05 260.83,70.31 262.99,69.61 265.09,80.48 267.13,79.54 269.11,78.66 271.04,88.46 272.93,87.40 274.77,86.38 276.56,95.30 278.31,94.15 280.02,102.48 281.70,101.23 283.33,100.02 284.93,107.70 286.50,106.41 288.04,113.65 289.54,112.29 291.01,110.99 292.46,117.72 293.88,116.36 295.27,122.74 296.64,121.35 297.98,120.00 299.29,125.98 300.59,124.60 301.86,130.30 303.11,128.89 304.34,127.53 305.55,132.91 306.74,131.52 307.92,136.67 309.07,135.27 310.21,140.21 311.33,138.80 312.43,137.43 313.52,142.12 314.59,140.75 315.64,145.25 316.69,143.87 317.71,148.22 318.73,146.83 319.72,145.49 320.71,149.64 321.68,148.29 322.64,152.30 323.59,150.95 324.53,154.82 325.45,153.48 326.37,157.23 327.27,155.89 328.16,154.58 329.04,158.18 329.91,156.88 330.77,160.37 331.62,159.07 332.46,162.46 333.30,161.16 334.12,164.46 334.93,163.17 335.74,166.37 336.53,165.09 337.32,163.83 338.10,166.93 338.87,165.68 339.64,168.69 340.39,167.45 341.14,170.39 341.88,169.15 342.61,172.01 343.34,170.79 344.06,173.58 344.77,172.36 345.48,171.17 346.18,173.88 346.87,172.69 347.56,175.33 348.24,174.16 348.91,176.74 349.58,175.57 350.24,178.10 350.89,176.94 351.54,179.41 352.19,178.25 352.83,180.67 353.46,179.53 354.09,178.41 354.71,180.76 355.33,179.64 355.94,181.95 356.55,180.84 357.15,183.10 357.75,182.00 358.34,184.22 358.93,183.13 359.52,185.30 360.10,184.22 360.67,186.34 361.24,185.27 361.81,187.36 362.37,186.30 362.93,185.25 363.48,187.29 364.03,186.25 364.58,188.26 365.12,187.22 365.65,189.19 366.19,188.17 366.72,190.10 367.24,189.09 367.77,190.99 368.28,189.98 368.80,191.85 369.31,190.85 369.82,192.69 370.32,191.69 370.83,190.71 371.32,192.52 371.82,191.54 372.31,193.32 372.80,192.35 373.28,194.10 373.76,193.14 374.24,194.86 374.72,193.91 375.19,195.60 375.66,194.66 376.13,196.32 376.59,195.39 377.05,197.02 377.51,196.10 377.97,197.71 378.42,196.79 378.87,195.88 379.32,197.47 379.76,196.57 380.20,198.13 380.64,197.23 381.08,198.78 381.51,197.89 381.94,199.41 382.37,198.53 382.80,200.02 383.22,199.15 383.65,200.63 384.06,199.76 384.48,201.22 384.90,200.35 385.31,201.79 385.72,200.94 386.13,202.36 386.53,201.51 386.94,200.67 387.34,202.06 387.74,201.23 388.13,202.61 388.53,201.78 388.92,203.14 389.31,202.32 389.70,203.67 390.09,202.85 390.47,204.18 390.85,203.37 391.24,204.68 391.61,203.88 391.99,205.17 392.37,204.37 392.74,205.66 393.11,204.86 393.48,204.07 393.85,205.34 394.21,204.56 394.58,205.81 394.94,205.03 395.30,206.27 395.66,205.50 396.02,206.72 396.37,205.95 396.73,207.16 397.08,206.40 397.43,207.59 397.78,206.84 398.12,208.02 398.47,207.27 398.81,208.44 399.15,207.69 399.50,208.85 399.83,208.11 400.17,207.37 400.51,208.52 400.84,207.79 401.18,208.92 401.51,208.19 401.84,209.31 402.17,208.59 402.49,209.70 402.82,208.98 403.14,210.08 403.47,209.37 403.79,210.45 404.11,209.74 404.43,210.82 404.74,210.11 405.06,211.18 405.38,210.48 405.69,211.53 406.00,210.84 406.31,210.15 406.62,211.19 406.93,210.51 407.24,211.54 407.54,210.86 407.85,211.88 408.15,211.21 408.45,212.22 408.75,211.55 409.05,212.55 409.35,211.88 409.65,212.87 409.94,212.21 410.24,213.19 410.53,212.53 410.83,213.51 411.12,212.85 411.41,212.20 411.70,213.17 411.98,212.52 412.27,213.48 412.56,212.83 412.84,213.78 413.12,213.14 413.41,214.08 413.69,213.45 413.97,214.38 414.25,213.74 414.53,214.67 414.80,214.04 415.08,214.95 415.36,214.33 415.63,215.24 415.90,214.62 416.17,215.51 416.45,214.90 416.72,214.29 416.99,215.18 417.25,214.57 417.52,215.45 417.79,214.84 418.05,215.72 418.32,215.12 418.58,215.99 418.84,215.39 419.10,216.25 419.37,215.65 419.63,216.51 419.88,215.91 420.14,216.76 420.40,216.17 420.66,217.01 420.91,216.43 421.17,215.85 421.42,216.68 421.67,216.10 421.92,216.93 422.18,216.35 422.43,217.17 422.67,216.60 422.92,217.41 423.17,216.84 423.42,217.65 423.66,217.08 423.91,217.89 424.15,217.32 424.40,218.12 424.64,217.56 424.88,218.35 425.12,217.79 425.36,217.23 425.60,218.02 425.84,217.47 426.08,218.24 426.32,217.69 426.56,218.47 426.79,217.92 427.03,218.69 427.26,218.14 427.49,218.90 427.73,218.36 427.96,219.12 428.19,218.58 428.42,219.33 428.65,218.80 428.88,219.54 429.11,219.01 429.34,218.48 429.57,219.22 429.79,218.69 430.02,219.42 430.24,218.90 430.47,219.63 430.69,219.11 430.92,219.83 431.14,219.31 431.36,220.03 431.58,219.51 431.80,220.23 432.02,219.71 432.24,220.42 432.46,219.91 432.68,220.62 432.89,220.11 433.11,219.60 433.33,220.30 433.54,219.80 433.76,220.49 433.97,219.99 434.19,220.68 434.40,220.18 434.61,220.86 434.82,220.37 435.03,221.05 435.24,220.55 435.45,221.23 435.66,220.74 435.87,221.41 436.08,220.92 436.29,221.59 436.50,221.10 436.70,220.62 436.91,221.28 437.11,220.80 437.32,221.46 437.52,220.97 437.73,221.63 437.93,221.15 438.13,221.80 438.33,221.33 438.54,221.97 438.74,221.50 438.94,222.14 439.14,221.67 439.34,222.31 439.53,221.84 439.73,221.37 439.93,222.01 440.13,221.54 440.32,222.17 440.52,221.71 440.72,222.34 440.91,221.87 441.11,222.50 441.30,222.04 441.49,222.66 441.69,222.20 441.88,222.82 442.07,222.36 442.26,222.97 442.45,222.52 442.65,223.13 442.84,222.68 443.02,222.23 443.21,222.83 443.40,222.39 443.59,222.99 443.78,222.54 443.97,223.14 444.15,222.70 444.34,223.29 444.52,222.85 444.71,223.44 444.90,223.00 445.08,223.59 445.26,223.15 445.45,223.74 445.63,223.30 445.81,222.86 446.00,223.45 446.18,223.01 446.36,223.59 446.54,223.16 446.72,223.74 446.90,223.31 447.08,223.88 447.26,223.45 447.44,224.02 447.62,223.59 447.79,224.16 447.97,223.74 448.15,224.30 448.32,223.88 448.50,223.46 448.68,224.02 448.85,223.60 449.03,224.15 449.20,223.74 449.38,224.29 449.55,223.87 449.72,224.43 449.90,224.01 450.07,224.56 450.24,224.15 450.41,224.69 450.58,224.28 450.75,224.82 450.92,224.41 451.10,224.01 451.26,224.55 451.43,224.14 451.60,224.68 451.77,224.27 451.94,224.81 452.11,224.40 452.28,224.93 452.44,224.53 452.61,225.06 452.78,224.66 452.94,225.19 453.11,224.79 453.27,225.31 453.44,224.92 453.60,224.52 453.77,225.04 453.93,224.65 454.09,225.17 454.26,224.77 454.42,225.29 454.58,224.90 454.74,225.41 454.90,225.02 455.07,225.53 455.23,225.14 455.39,225.65 455.55,225.27 455.71,225.77 455.87,225.39 456.03,225.00 456.19,225.51 456.34,225.12 456.50,225.62 456.66,225.24 456.82,225.74 456.98,225.36 457.13,225.86 457.29,225.48 457.44,225.97 457.60,225.60 457.76,226.09 457.91,225.71 458.07,225.34 458.22,225.83 458.38,225.45 458.53,225.94 458.68,225.57 458.84,226.05 458.99,225.68 459.14,226.17 459.29,225.80 459.45,226.28 459.60,225.91 459.75,226.39 459.90,226.02 460.05,226.50 460.20,226.13 460.35,225.77 460.50,226.24 460.65,225.88 460.80,226.35 460.95,225.99 461.10,226.46 461.25,226.10 461.40,226.56 461.54,226.21 461.69,226.67 461.84,226.31 461.99,226.78 462.13,226.42 462.28,226.06 462.42,226.53 462.57,226.17 462.72,226.63 462.86,226.28 463.01,226.73 463.15,226.38 463.30,226.84 463.44,226.49 463.58,226.94 463.73,226.59 463.87,227.04 464.01,226.69 464.16,226.35 464.30,226.80 464.44,226.45 464.58,226.90 464.72,226.55 464.87,227.00 465.01,226.65 465.15,227.10 465.29,226.76 465.43,227.20 465.57,226.86 465.71,227.29 465.85,226.95 465.99,226.62 466.13,227.05 466.26,226.72 466.40,227.15 466.54,226.82 466.68,227.25 466.82,226.91 466.95,227.34 467.09,227.01 467.23,227.44 467.37,227.11 467.50,227.54 467.64,227.20 467.77,226.87 467.91,227.30 468.05,226.97 468.18,227.39 468.32,227.06 468.45,227.49 468.59,227.16 468.72,227.58 468.85,227.25 468.99,227.67 469.12,227.35 469.25,227.77 469.39,227.44 469.52,227.12 469.65,227.53 469.78,227.21 469.92,227.62 470.05,227.30 470.18,227.72 470.31,227.39 470.44,227.81 470.57,227.49 470.70,227.90 470.83,227.58 470.97,227.98 471.10,227.67 471.23,227.35 471.35,227.76 471.48,227.44 471.61,227.85 471.74,227.53 471.87,227.93 472.00,227.62 472.13,228.02 472.26,227.71 472.38,228.11 472.51,227.80 472.64,228.19 472.77,227.88 472.89,227.57 473.02,227.97 473.15,227.66 473.27,228.06 473.40,227.75 473.52,228.14 473.65,227.83 473.77,228.23 473.90,227.92 474.02,228.31 474.15,228.01 474.27,228.39 474.40,228.09 474.52,227.79 474.65,228.17 474.77,227.87 474.89,228.26 475.02,227.96 475.14,228.34 475.26,228.04 475.39,228.42 475.51,228.12 475.63,228.51 475.75,228.21 475.88,228.59 476.00,228.29 476.12,227.99 476.24,228.37 476.36,228.07 476.48,228.45 476.60,228.16 476.72,228.53 476.84,228.24 476.96,228.61 477.08,228.32 477.20,228.69 477.32,228.40 477.44,228.11 477.56,228.48 477.68,228.19 477.80,228.56 477.92,228.27 478.04,228.64 478.15,228.35 478.27,228.71 478.39,228.43 478.51,228.79 478.63,228.50 478.74,228.87 478.86,228.58 478.98,228.30 479.09,228.66 479.21,228.37 479.33,228.74 479.44,228.45 479.56,228.81 479.68,228.53 479.79,228.89 479.91,228.61 480.02,228.97 480.14,228.68 480.25,228.40 480.37,228.76 480.48,228.48 480.60,228.83 480.71,228.55 480.82,228.91 480.94,228.63 481.05,228.98 481.17,228.71 481.28,229.06 481.39,228.78 481.51,229.13 481.62,228.86 481.73,228.58 481.84,228.93 481.96,228.65 482.07,229.00 482.18,228.73 482.29,229.08 482.40,228.80 482.51,229.15 482.63,228.87 482.74,229.22 482.85,228.95 482.96,228.68 483.07,229.02 483.18,228.75 483.29,229.09 483.40,228.82 483.51,229.16 483.62,228.89 483.73,229.24 483.84,228.97 483.95,229.31 484.06,229.04 484.17,229.38 484.28,229.11 484.39,228.84 484.49,229.18 484.60,228.91 484.71,229.25 484.82,228.98 484.93,229.32 485.03,229.05 485.14,229.39 485.25,229.12 485.36,229.46 485.46,229.19 485.57,228.93 485.68,229.26 485.79,229.00 485.89,229.33 486.00,229.07 486.10,229.40 486.21,229.14 486.32,229.47 486.42,229.21 486.53,229.54 486.63,229.28 486.74,229.02 486.84,229.35 486.95,229.09 487.05,229.41 487.16,229.15 487.26,229.48 487.37,229.22 487.47,229.55 487.58,229.29 487.68,229.61 487.78,229.36 487.89,229.10 487.99,229.42 488.10,229.17 488.20,229.49 488.30,229.24 488.40,229.56 488.51,229.30 488.61,229.62 488.71,229.37 488.82,229.69 488.92,229.44 489.02,229.18 489.12,229.50 489.22,229.25 489.33,229.57 489.43,229.32 489.53,229.63 489.63,229.38 489.73,229.70 489.83,229.45 489.93,229.76 490.03,229.51 490.14,229.26 490.24,229.58 490.34,229.33 490.44,229.64 490.54,229.39 490.64,229.70 490.74,229.46 490.84,229.77 490.94,229.52 491.03,229.83 491.13,229.58 491.23,229.34 491.33,229.65 491.43,229.40 491.53,229.71 491.63,229.47 491.73,229.77 491.83,229.53 491.92,229.84 492.02,229.59 492.12,229.90 492.22,229.66 492.32,229.41 492.41,229.72 492.51,229.48 492.61,229.78 492.71,229.54 492.80,229.84 492.90,229.60 493.00,229.90 493.09,229.66 493.19,229.96 493.29,229.73 493.38,229.49 493.48,229.79 493.58,229.55 493.67,229.85 493.77,229.61 493.86,229.91 493.96,229.67 494.05,229.97 494.15,229.73 494.24,230.03 494.34,229.79 494.43,229.56 494.53,229.85 494.62,229.62 494.72,229.91 494.81,229.68 494.91,229.97 495.00,229.74 495.10,230.03 495.19,229.80 495.28,230.09 495.38,229.86 495.47,229.63 495.57,229.92 495.66,229.69 495.75,229.98 495.85,229.75 495.94,230.03 496.03,229.80 496.12,230.09 496.22,229.86 496.31,230.15 496.40,229.92 496.49,229.69 496.59,229.98 496.68,229.75 496.77,230.04 496.86,229.81 496.96,230.09 497.05,229.87 497.14,230.15 497.23,229.93 497.32,230.21 497.41,229.98 497.50,229.76 497.60,230.04 497.69,229.82 497.78,230.10 497.87,229.87 497.96,230.15 498.05,229.93 498.14,230.21 498.23,229.99 498.32,230.27 498.41,230.04 498.50,229.82 498.59,230.10 498.68,229.88 498.77,230.16 498.86,229.93 498.95,230.21 499.04,229.99 499.13,230.27 499.22,230.05 499.30,229.83 499.39,230.10 499.48,229.88 499.57,230.16 499.66,229.94 499.75,230.21 499.84,229.99 499.92,230.27 500.01,230.05 500.10,230.32 500.19,230.10 500.28,229.89 500.36,230.16 500.45,229.94 500.54,230.21 500.63,230.00 500.71,230.27 500.80,230.05 500.89,230.32 500.98,230.11 501.06,230.38 501.15,230.16 501.24,229.95 501.32,230.22 501.41,230.00 501.50,230.27 501.58,230.06 501.67,230.32 501.75,230.11 501.84,230.38 501.93,230.16 502.01,229.95 502.10,230.22 502.18,230.00 502.27,230.27 502.35,230.06 502.44,230.32 502.52,230.11 502.61,230.37 502.69,230.16 502.78,230.43 502.86,230.22 502.95,230.01 503.03,230.27 503.12,230.06 503.20,230.32 503.29,230.11 503.37,230.37 503.46,230.17 503.54,230.43 503.62,230.22 503.71,230.48 503.79,230.27 503.87,230.06 503.96,230.32 504.04,230.12 504.13,230.37 504.21,230.17 504.29,230.43 504.38,230.22 504.46,230.48 504.54,230.27 504.62,230.07 504.71,230.32 504.79,230.12 504.87,230.37 504.95,230.17 505.04,230.42 505.12,230.22 505.20,230.47 505.28,230.27 505.37,230.53 505.45,230.32 505.53,230.12 505.61,230.37 505.69,230.17 505.77,230.42 505.86,230.22 505.94,230.47 506.02,230.27 506.10,230.52 506.18,230.32 506.26,230.12 506.34,230.37 506.42,230.17 506.50,230.42 506.59,230.22 506.67,230.47 506.75,230.27 506.83,230.52 506.91,230.32 506.99,230.57 507.07,230.37 507.15,230.17 507.23,230.42 507.31,230.22 507.39,230.47 507.47,230.27 507.55,230.52 507.63,230.32 507.71,230.57 507.79,230.37 507.86,230.17 507.94,230.42 508.02,230.22 508.10,230.47 508.18,230.27 508.26,230.52 508.34,230.32 508.42,230.57 508.50,230.37 508.57,230.18 508.65,230.42 508.73,230.23 508.81,230.47 508.89,230.27 508.97,230.52 509.04,230.32 509.12,230.56 509.20,230.37 509.28,230.61 509.36,230.42 509.43,230.23 509.51,230.47 509.59,230.27 509.67,230.51 509.74,230.32 509.82,230.56 509.90,230.37 509.97,230.61 510.05,230.42 510.13,230.23 510.21,230.46 510.28,230.27 510.36,230.51 510.44,230.32 510.51,230.56 510.59,230.37 510.67,230.61 510.74,230.42 510.82,230.65 510.89,230.46 510.97,230.28 511.05,230.51 511.12,230.32 511.20,230.56 511.27,230.37 511.35,230.60 511.42,230.42 511.50,230.65 511.58,230.46 511.65,230.28 511.73,230.51 511.80,230.32 511.88,230.55 511.95,230.37 512.03,230.60 512.10,230.41 512.18,230.65 512.25,230.46 512.33,230.28 512.40,230.51 512.48,230.32 512.55,230.55 512.92,230.46 513.55,230.50 514.13,230.53 514.71,230.50 515.33,230.50 515.93,230.48 516.54,230.50 517.13,230.55 517.73,230.54 518.35,230.54 518.93,230.52 519.51,230.53 520.12,230.53 520.72,230.53 521.32,230.53 521.91,230.53 522.50,230.52 523.12,230.53 523.73,230.52 524.33,230.51 524.93,230.52 525.53,230.53 526.12,230.51 526.71,230.51 527.32,230.46 527.93,230.48 528.53,230.46 529.13,230.48 529.72,230.46 530.31,230.45 530.93,230.42 531.53,230.43 532.14,230.40 532.74,230.39 533.33,230.38 533.92,230.35 534.50,230.36 535.11,230.33 535.71,230.31 536.31,230.29 536.90,230.30 537.52,230.26 538.13,230.26 538.73,230.22 539.33,230.20 539.93,230.20 540.54,230.16 541.13,230.17 541.71,230.12 542.31,230.12 542.91,230.08 543.52,230.05 544.13,230.03 544.72,230.01 545.32,230.00 545.94,229.93 546.53,229.94 547.12,229.91 547.72,229.87 548.32,229.86 548.92,229.82 549.51,229.80 550.12,229.77 550.73,229.73 551.32,229.70 551.92,229.67 552.51,229.64 553.12,229.61 553.72,229.58 554.32,229.55 554.93,229.51 555.54,229.49 556.12,229.45 556.72,229.41 557.33,229.39 557.92,229.34 558.51,229.29 559.11,229.29 559.72,229.24 560.33,229.19 560.92,229.16 561.52,229.13 562.13,229.10 562.72,229.05 563.31,229.01 563.93,228.97 564.54,228.93 565.13,228.88 565.73,228.84 566.33,228.81 566.93,228.75 567.53,228.73 568.14,228.68 568.73,228.64 569.33,228.60 569.93,228.56 570.53,228.51 571.13,228.46 571.73,228.42 572.34,228.38 572.93,228.34 573.53,228.28 574.13,228.25 574.73,228.19 575.33,228.15 575.93,228.10 576.53,228.05 577.13,228.01 577.72,227.96 578.32,227.91 578.92,227.87 579.51,227.81 580.12,227.76 580.72,227.72 581.32,227.67 581.93,227.62 582.53,227.57 583.13,227.51 583.74,227.46 584.34,227.41 584.93,227.35 585.52,227.31 586.12,227.26 586.72,227.20 587.33,227.15 587.92,227.10 588.53,227.05 589.13,226.98 589.73,226.94 590.33,226.88 590.93,226.82 591.53,226.77 592.13,226.71 592.73,226.66 593.32,226.61 593.92,226.54 594.52,226.49 595.12,226.43 595.72,226.38 596.32,226.32 596.92,226.26 597.53,226.20 598.13,226.15 598.73,226.09 599.32,226.04 599.92,225.97 600.53,225.91 601.12,225.85 601.72,225.79 602.33,225.74 602.92,225.67 603.52,225.62 604.12,225.55 604.73,225.49 605.33,225.43 605.93,225.37 606.53,225.31 607.13,225.25 607.72,225.19 608.32,225.13 608.92,225.06 609.52,225.00 610.12,224.94 610.73,224.87 611.33,224.81 611.93,224.75 612.53,224.68 613.13,224.62 613.73,224.55 614.33,224.49 614.93,224.43 615.53,224.36 616.13,224.30 616.73,224.24 617.33,224.17 617.93,224.10 618.53,224.04 619.12,223.97 619.73,223.91 620.32,223.84 620.92,223.77 621.53,223.71 622.13,223.64 622.73,223.57 623.32,223.51 623.93,223.44 624.53,223.38 625.13,223.31 625.73,223.23 626.33,223.17 626.93,223.10 627.52,223.03 628.13,222.96 628.72,222.90 629.32,222.83 629.92,222.76 630.52,222.69 631.12,222.62 631.72,222.55 632.32,222.49 632.92,222.41 633.53,222.34 634.13,222.27 634.73,222.20 635.33,222.14 635.93,222.07 636.52,221.99 637.12,221.92 637.72,221.85 638.32,221.78 638.92,221.71 639.52,221.64 640.13,221.57 640.73,221.49 641.33,221.43 641.92,221.35 642.52,221.28 643.13,221.22 643.73,221.14 644.33,221.07 644.93,220.99 645.53,220.92 646.12,220.85 646.72,220.78 647.32,220.70 647.92,220.63 648.52,220.56 649.13,220.48 649.73,220.41 650.33,220.34 650.93,220.26 651.53,220.19 652.13,220.12 652.72,220.05 653.33,219.97 653.92,219.90 654.52,219.82 655.12,219.75 655.72,219.68 656.33,219.60 656.92,219.53 657.52,219.45 658.13,219.38 658.73,219.30 659.32,219.23 659.92,219.15 660.52,219.08 661.13,219.00 661.73,218.93 662.33,218.85 662.93,218.78 663.53,218.70 664.13,218.63 664.73,218.55 665.33,218.48 665.93,218.40 666.53,218.32 667.12,218.25 667.72,218.17 668.32,218.10 668.93,218.02 669.53,217.94 670.12,217.87 670.72,217.79 671.32,217.71 671.92,217.64 672.52,217.56 673.12,217.48 673.73,217.41 674.33,217.33 674.92,217.25 675.52,217.18 676.12,217.10 676.73,217.02 677.33,216.95 677.93,216.87 678.53,216.79 679.12,216.71 679.72,216.64 680.33,216.56 680.92,216.48 681.53,216.41 682.12,216.33 682.73,216.25 683.33,216.17 683.80,216.11 683.96,216.07"/>
<path stroke="#ee9005" d="M118.13,45.90 272.93,45.90 274.77,56.02 276.56,55.78 278.31,55.55 280.02,55.33 281.70,64.34 283.33,63.94 284.93,63.56 286.50,63.19 288.04,71.31 289.54,70.80 291.01,70.31 292.46,69.84 293.88,77.22 295.27,76.64 296.64,76.08 297.98,75.54 299.29,82.30 300.59,81.67 301.86,81.07 303.11,87.40 304.34,86.71 305.55,86.06 306.74,85.42 307.92,91.29 309.07,90.59 310.21,89.91 311.33,95.45 312.43,94.72 313.52,94.01 314.59,99.25 315.64,98.50 316.69,97.77 317.71,97.06 318.73,101.97 319.72,101.23 320.71,100.50 321.68,105.18 322.64,104.42 323.59,103.68 324.53,108.14 325.45,107.37 326.37,106.62 327.27,110.89 328.16,110.12 329.04,109.36 329.91,113.45 330.77,112.67 331.62,111.91 332.46,115.84 333.30,115.06 334.12,114.30 334.93,118.07 335.74,117.29 336.53,116.53 337.32,120.15 338.10,119.38 338.87,118.62 339.64,122.12 340.39,121.35 341.14,120.59 341.88,123.96 342.61,123.19 343.34,122.44 344.06,125.70 344.77,124.94 345.48,124.19 346.18,127.34 346.87,126.58 347.56,125.84 348.24,128.89 348.91,128.14 349.58,127.41 350.24,130.36 350.89,129.62 351.54,128.89 352.19,131.75 352.83,131.02 353.46,130.30 354.09,133.07 354.71,132.35 355.33,131.63 355.94,134.33 356.55,133.61 357.15,136.25 357.75,135.53 358.34,134.82 358.93,137.39 359.52,136.67 360.10,135.97 360.67,138.47 361.24,137.76 361.81,137.06 362.37,139.50 362.93,138.80 363.48,138.11 364.03,140.48 364.58,139.79 365.12,139.11 365.65,141.43 366.19,140.75 366.72,140.07 367.24,142.33 367.77,141.66 368.28,143.87 368.80,143.20 369.31,142.53 369.82,144.70 370.32,144.03 370.83,143.37 371.32,145.49 371.82,144.83 372.31,144.18 372.80,146.25 373.28,145.60 373.76,144.95 374.24,146.98 374.72,146.33 375.19,145.70 375.66,147.68 376.13,147.04 376.59,148.99 377.05,148.36 377.51,147.73 377.97,149.64 378.42,149.01 378.87,148.39 379.32,150.26 379.76,149.64 380.20,149.02 380.64,150.86 381.08,150.24 381.51,149.64 381.94,151.44 382.37,150.83 382.80,152.60 383.22,152.00 383.65,151.40 384.06,153.13 384.48,152.54 384.90,151.94 385.31,153.65 385.72,153.06 386.13,152.47 386.53,154.15 386.94,153.56 387.34,152.98 387.74,154.63 388.13,154.05 388.53,155.68 388.92,155.10 389.31,154.53 389.70,156.12 390.09,155.55 390.47,154.98 390.85,156.55 391.24,155.99 391.61,155.43 391.99,156.97 392.37,156.41 392.74,155.86 393.11,157.38 393.48,156.83 393.85,158.32 394.21,157.77 394.58,157.23 394.94,158.70 395.30,158.16 395.66,157.62 396.02,159.07 396.37,158.53 396.73,158.00 397.08,159.42 397.43,158.89 397.78,158.36 398.12,159.77 398.47,159.24 398.81,160.63 399.15,160.11 399.50,159.58 399.83,160.95 400.17,160.43 400.51,159.92 400.84,161.27 401.18,160.75 401.51,160.24 401.84,161.57 402.17,161.06 402.49,162.38 402.82,161.87 403.14,161.36 403.47,162.66 403.79,162.16 404.11,161.66 404.43,162.94 404.74,162.44 405.06,161.95 405.38,163.21 405.69,162.71 406.00,162.22 406.31,163.47 406.62,162.98 406.93,164.21 407.24,163.73 407.54,163.24 407.85,164.46 408.15,163.98 408.45,163.50 408.75,164.70 409.05,164.22 409.35,163.75 409.65,164.93 409.94,164.46 410.24,165.63 410.53,165.16 410.83,164.69 411.12,165.85 411.41,165.38 411.70,164.92 411.98,166.06 412.27,165.60 412.56,165.14 412.84,166.27 413.12,165.81 413.41,165.36 413.69,166.47 413.97,166.02 414.25,167.12 414.53,166.67 414.80,166.22 415.08,167.31 415.36,166.86 415.63,166.42 415.90,167.50 416.17,167.05 416.45,166.61 416.72,167.68 416.99,167.24 417.25,168.30 417.52,167.86 417.79,167.42 418.05,168.47 418.32,168.03 418.58,167.60 418.84,168.63 419.10,168.20 419.37,167.77 419.63,168.79 419.88,168.37 420.14,167.94 420.40,168.95 420.66,168.53 420.91,169.53 421.17,169.11 421.42,168.69 421.67,169.68 421.92,169.26 422.18,168.85 422.43,169.83 422.67,169.41 422.92,169.00 423.17,169.97 423.42,169.56 423.66,170.52 423.91,170.11 424.15,169.70 424.40,170.66 424.64,170.25 424.88,169.85 425.12,170.79 425.36,170.39 425.60,169.98 425.84,170.92 426.08,170.52 426.32,170.12 426.56,171.04 426.79,170.65 427.03,171.56 427.26,171.17 427.49,170.78 427.73,171.68 427.96,171.29 428.19,170.90 428.42,171.80 428.65,171.41 428.88,171.02 429.11,171.91 429.34,171.53 429.57,172.41 429.79,172.02 430.02,171.64 430.24,172.52 430.47,172.13 430.69,171.76 430.92,172.62 431.14,172.24 431.36,171.87 431.58,172.72 431.80,172.35 432.02,171.98 432.24,172.83 432.46,172.45 432.68,173.30 432.89,172.93 433.11,172.56 433.33,173.39 433.54,173.02 433.76,172.66 433.97,173.49 434.19,173.12 434.40,172.76 434.61,173.58 434.82,173.21 435.03,172.85 435.24,173.67 435.45,173.31 435.66,174.11 435.87,173.76 436.08,173.40 436.29,174.20 436.50,173.84 436.70,173.49 436.91,174.28 437.11,173.93 437.32,173.58 437.52,174.36 437.73,174.01 437.93,173.66 438.13,174.44 438.33,174.10 438.54,174.87 438.74,174.52 438.94,174.18 439.14,174.95 439.34,174.60 439.53,174.26 439.73,175.02 439.93,174.68 440.13,174.34 440.32,175.09 440.52,174.75 440.72,175.50 440.91,175.16 441.11,174.83 441.30,175.57 441.49,175.24 441.69,174.90 441.88,175.64 442.07,175.30 442.26,174.97 442.45,175.70 442.65,175.37 442.84,175.04 443.02,175.77 443.21,175.44 443.40,176.16 443.59,175.83 443.78,175.51 443.97,176.22 444.15,175.90 444.34,175.57 444.52,176.28 444.71,175.96 444.90,175.64 445.08,176.34 445.26,176.02 445.45,175.70 445.63,176.40 445.81,176.08 446.00,176.78 446.18,176.46 446.36,176.14 446.54,176.83 446.72,176.51 446.90,176.20 447.08,176.88 447.26,176.57 447.44,176.26 447.62,176.94 447.79,176.62 447.97,176.31 448.15,176.99 448.32,176.68 448.50,177.35 448.68,177.04 448.85,176.73 449.03,177.40 449.20,177.09 449.38,176.78 449.55,177.45 449.72,177.14 449.90,176.84 450.07,177.49 450.24,177.19 450.41,176.89 450.58,177.54 450.75,177.24 450.92,176.94 451.10,177.59 451.26,177.29 451.43,177.93 451.60,177.63 451.77,177.33 451.94,177.97 452.11,177.67 452.28,177.38 452.44,178.01 452.61,177.72 452.78,177.42 452.94,178.06 453.11,177.76 453.27,177.47 453.44,178.10 453.60,177.80 453.77,178.43 453.93,178.14 454.09,177.85 454.26,178.47 454.42,178.18 454.58,177.89 454.74,178.50 454.90,178.22 455.07,177.93 455.23,178.54 455.39,178.25 455.55,177.97 455.71,178.58 455.87,178.29 456.03,178.90 456.19,178.61 456.34,178.33 456.50,178.93 456.66,178.65 456.82,178.37 456.98,178.96 457.13,178.68 457.29,178.41 457.44,179.00 457.60,178.72 457.76,178.44 457.91,179.03 458.07,178.75 458.22,178.48 458.38,179.06 458.53,178.79 458.68,179.37 458.84,179.09 458.99,178.82 459.14,179.40 459.29,179.13 459.45,178.85 459.60,179.43 459.75,179.16 459.90,178.89 460.05,179.46 460.20,179.19 460.35,178.92 460.50,179.49 460.65,179.22 460.80,179.78 460.95,179.51 461.10,179.25 461.25,179.81 461.40,179.54 461.54,179.28 461.69,179.83 461.84,179.57 461.99,179.31 462.13,179.86 462.28,179.60 462.42,179.33 462.57,179.89 462.72,179.62 462.86,179.36 463.01,179.91 463.15,179.65 463.30,180.20 463.44,179.94 463.58,179.68 463.73,180.22 463.87,179.96 464.01,179.70 464.16,180.24 464.30,179.99 464.44,179.73 464.58,180.26 464.72,180.01 464.87,179.75 465.01,180.29 465.15,180.03 465.29,179.78 465.43,180.31 465.57,180.06 465.71,180.58 465.85,180.33 465.99,180.08 466.13,180.60 466.26,180.35 466.40,180.10 466.54,180.62 466.68,180.37 466.82,180.13 466.95,180.64 467.09,180.40 467.23,180.15 467.37,180.66 467.50,180.42 467.64,180.17 467.77,180.68 467.91,180.44 468.05,180.95 468.18,180.70 468.32,180.46 468.45,180.97 468.59,180.72 468.72,180.48 468.85,180.98 468.99,180.74 469.12,180.50 469.25,181.00 469.39,180.76 469.52,180.52 469.65,181.02 469.78,180.78 469.92,180.54 470.05,181.03 470.18,180.80 470.31,181.29 470.44,181.05 470.57,180.81 470.70,181.30 470.83,181.07 470.97,180.83 471.10,181.32 471.23,181.08 471.35,180.85 471.48,181.34 471.61,181.10 471.74,180.87 471.87,181.35 472.00,181.12 472.13,180.88 472.26,181.36 472.38,181.13 472.51,180.90 472.64,181.38 472.77,181.15 472.89,181.62 473.02,181.39 473.15,181.16 473.27,181.64 473.40,181.41 473.52,181.18 473.65,181.65 473.77,181.42 473.90,181.19 474.02,181.66 474.15,181.44 474.27,181.21 474.40,181.68 474.52,181.45 474.65,181.22 474.77,181.69 474.89,181.46 475.02,181.93 475.14,181.70 475.26,181.48 475.39,181.94 475.51,181.71 475.63,181.49 475.75,181.95 475.88,181.73 476.00,181.50 476.12,181.96 476.24,181.74 476.36,181.52 476.48,181.97 476.60,181.75 476.72,181.53 476.84,181.98 476.96,181.76 477.08,181.54 477.20,181.99 477.32,181.77 477.44,182.22 477.56,182.00 477.68,181.79 477.80,182.23 477.92,182.01 478.04,181.80 478.15,182.24 478.27,182.02 478.39,181.81 478.51,182.25 478.63,182.04 478.74,181.82 478.86,182.26 478.98,182.05 479.09,181.83 479.21,182.27 479.33,182.06 479.44,181.84 479.56,182.28 479.68,182.07 479.79,182.50 479.91,182.29 480.02,182.08 480.14,182.51 480.25,182.30 480.37,182.09 480.48,182.51 480.60,182.30 480.71,182.10 480.82,182.52 480.94,182.31 481.05,182.10 481.17,182.53 481.28,182.32 481.39,182.11 481.51,182.54 481.62,182.33 481.73,182.12 481.84,182.55 481.96,182.34 482.07,182.76 482.18,182.55 482.29,182.35 482.40,182.77 482.51,182.56 482.63,182.36 482.74,182.77 482.85,182.57 482.96,182.36 483.07,182.78 483.18,182.57 483.29,182.37 483.40,182.78 483.51,182.58 483.62,182.38 483.73,182.79 483.84,182.59 483.95,182.39 484.06,182.80 484.17,182.60 484.28,182.40 484.39,182.80 484.49,182.60 484.60,183.01 484.71,182.81 484.82,182.61 484.93,183.01 485.03,182.82 485.14,182.62 485.25,183.02 485.36,182.82 485.46,182.62 485.57,183.02 485.68,182.83 485.79,182.63 485.89,183.03 486.00,182.83 486.10,182.64 486.21,183.03 486.32,182.84 486.42,182.64 486.53,183.04 486.63,182.85 486.74,182.65 486.84,183.04 486.95,182.85 487.05,183.24 487.16,183.05 487.26,182.86 487.37,183.25 487.47,183.05 487.58,182.86 487.68,183.25 487.78,183.06 487.89,182.87 487.99,183.25 488.10,183.06 488.20,182.87 488.30,183.26 488.40,183.07 488.51,182.88 488.61,183.26 488.71,183.07 488.82,182.88 488.92,183.27 489.02,183.08 489.12,182.89 489.22,183.27 489.33,183.08 489.43,183.46 489.53,183.27 489.63,183.09 489.73,183.46 489.83,183.28 489.93,183.09 490.03,183.47 490.14,183.28 490.24,183.10 490.34,183.47 490.44,183.29 490.54,183.10 490.64,183.47 490.74,183.29 490.84,183.11 490.94,183.48 491.03,183.29 491.13,183.11 491.23,183.48 491.33,183.30 491.43,183.11 491.53,183.48 491.63,183.30 491.73,183.12 491.83,183.49 491.92,183.30 492.02,183.67 492.12,183.49 492.22,183.31 492.32,183.67 492.41,183.49 492.51,183.31 492.61,183.67 492.71,183.49 492.80,183.31 492.90,183.68 493.00,183.50 493.09,183.32 493.19,183.68 493.29,183.50 493.38,183.32 493.48,183.68 493.58,183.50 493.67,183.33 493.77,183.68 493.86,183.51 493.96,183.33 494.05,183.68 494.15,183.51 494.24,183.33 494.34,183.69 494.43,183.51 494.53,183.86 494.62,183.69 494.72,183.51 494.81,183.87 494.91,183.69 495.00,183.52 495.10,183.87 495.19,183.69 495.28,183.52 495.38,183.87 495.47,183.69 495.57,183.52 495.66,183.87 495.75,183.70 495.85,183.52 495.94,183.87 496.03,183.70 496.12,183.53 496.22,183.87 496.31,183.70 496.40,183.53 496.49,183.87 496.59,183.70 496.68,183.53 496.77,183.87 496.86,183.70 496.96,184.05 497.05,183.88 497.14,183.71 497.23,184.05 497.32,183.88 497.41,183.71 497.50,184.05 497.60,183.88 497.69,183.71 497.78,184.05 497.87,183.88 497.96,183.71 498.05,184.05 498.14,183.88 498.23,183.71 498.32,184.05 498.41,183.88 498.50,183.72 498.59,184.05 498.68,183.88 498.77,183.72 498.86,184.05 498.95,183.88 499.04,183.72 499.13,184.05 499.22,183.89 499.30,183.72 499.39,184.05 499.48,183.89 499.57,184.22 499.66,184.05 499.75,183.89 499.84,184.22 499.92,184.05 500.01,183.89 500.10,184.22 500.19,184.05 500.28,183.89 500.36,184.22 500.45,184.05 500.54,183.89 500.63,184.22 500.71,184.05 500.80,183.89 500.89,184.22 500.98,184.06 501.06,183.89 501.15,184.22 501.24,184.06 501.32,183.89 501.41,184.22 501.50,184.06 501.58,183.90 501.67,184.22 501.75,184.06 501.84,183.90 501.93,184.22 502.01,184.06 502.10,183.90 502.18,184.22 502.27,184.06 502.35,184.38 502.44,184.22 502.52,184.06 502.61,184.37 502.69,184.22 502.78,184.06 502.86,184.37 502.95,184.22 503.03,184.06 503.12,184.37 503.20,184.22 503.29,184.06 503.37,184.37 503.46,184.22 503.54,184.06 503.62,184.37 503.71,184.22 503.79,184.06 503.87,184.37 503.96,184.22 504.04,184.06 504.13,184.37 504.21,184.22 504.29,184.06 504.38,184.37 504.46,184.22 504.54,184.06 504.62,184.37 504.71,184.22 504.79,184.06 504.87,184.37 504.95,184.22 505.04,184.06 505.12,184.37 505.20,184.22 505.28,184.52 505.37,184.37 505.45,184.22 505.53,184.52 505.61,184.37 505.69,184.22 505.77,184.52 505.86,184.37 505.94,184.22 506.02,184.52 506.10,184.37 506.18,184.22 506.26,184.52 506.34,184.37 506.42,184.22 506.50,184.52 506.59,184.37 506.67,184.22 506.75,184.52 506.83,184.37 506.91,184.22 506.99,184.51 507.07,184.37 507.15,184.22 507.23,184.51 507.31,184.37 507.39,184.22 507.47,184.51 507.55,184.36 507.63,184.22 507.71,184.51 507.79,184.36 507.86,184.22 507.94,184.51 508.02,184.36 508.10,184.22 508.18,184.51 508.26,184.36 508.34,184.66 508.42,184.51 508.50,184.36 508.57,184.65 508.65,184.51 508.73,184.36 508.81,184.65 508.89,184.51 508.97,184.36 509.04,184.65 509.12,184.51 509.20,184.36 509.28,184.65 509.36,184.51 509.43,184.36 509.51,184.65 509.59,184.50 509.67,184.36 509.74,184.65 509.82,184.50 509.90,184.36 509.97,184.65 510.05,184.50 510.13,184.36 510.21,184.64 510.28,184.50 510.36,184.36 510.44,184.64 510.51,184.50 510.59,184.36 510.67,184.64 510.74,184.50 510.82,184.36 510.89,184.64 510.97,184.50 511.05,184.36 511.12,184.64 511.20,184.50 511.27,184.36 511.35,184.64 511.42,184.50 511.50,184.78 511.58,184.64 511.65,184.50 511.73,184.78 511.80,184.64 511.88,184.50 511.95,184.77 512.03,184.63 512.10,184.49 512.18,184.77 512.25,184.63 512.33,184.49 512.40,184.77 512.48,184.63 512.55,184.49 512.92,184.63 513.55,184.64 514.13,184.62 514.71,184.60 515.33,184.75 515.93,184.73 516.54,184.74 517.13,184.75 517.73,184.73 518.35,184.73 518.93,184.77 519.51,184.85 520.12,184.84 520.72,184.84 521.32,184.83 521.91,184.83 522.50,184.82 523.12,184.80 523.73,184.81 524.33,184.93 524.93,184.92 525.53,184.90 526.12,184.91 526.71,184.91 527.32,184.90 527.93,184.88 528.53,184.90 529.13,184.88 529.72,184.86 530.31,184.88 530.93,184.86 531.53,184.87 532.14,184.84 532.74,184.86 533.33,184.92 533.92,184.94 534.50,184.94 535.11,184.92 535.71,184.94 536.31,184.92 536.90,184.91 537.52,184.91 538.13,184.91 538.73,184.80 539.33,184.79 539.93,184.79 540.54,184.79 541.13,184.79 541.71,184.78 542.31,184.77 542.91,184.77 543.52,184.76 544.13,184.76 544.72,184.76 545.32,184.76 545.94,184.75 546.53,184.68 547.12,184.65 547.72,184.64 548.32,184.65 548.92,184.64 549.51,184.63 550.12,184.62 550.73,184.55 551.32,184.55 551.92,184.54 552.51,184.54 553.12,184.51 553.72,184.46 554.32,184.45 554.93,184.45 555.54,184.44 556.12,184.37 556.72,184.37 557.33,184.37 557.92,184.31 558.51,184.29 559.11,184.29 559.72,184.24 560.33,184.22 560.92,184.22 561.52,184.15 562.13,184.15 562.72,184.12 563.31,184.08 563.93,184.08 564.54,184.01 565.13,184.01 565.73,183.97 566.33,183.95 566.93,183.91 567.53,183.89 568.14,183.85 568.73,183.83 569.33,183.78 569.93,183.77 570.53,183.71 571.13,183.70 571.73,183.65 572.34,183.62 572.93,183.59 573.53,183.55 574.13,183.52 574.73,183.50 575.33,183.44 575.93,183.42 576.53,183.38 577.13,183.35 577.72,183.30 578.32,183.26 578.92,183.23 579.51,183.20 580.12,183.16 580.72,183.12 581.32,183.08 581.93,183.03 582.53,183.00 583.13,182.96 583.74,182.92 584.34,182.88 584.93,182.84 585.52,182.79 586.12,182.76 586.72,182.72 587.33,182.67 587.92,182.63 588.53,182.59 589.13,182.54 589.73,182.51 590.33,182.46 590.93,182.41 591.53,182.37 592.13,182.33 592.73,182.29 593.32,182.24 593.92,182.19 594.52,182.15 595.12,182.10 595.72,182.06 596.32,182.01 596.92,181.97 597.53,181.92 598.13,181.87 598.73,181.83 599.32,181.78 599.92,181.73 600.53,181.68 601.12,181.63 601.72,181.59 602.33,181.54 602.92,181.48 603.52,181.44 604.12,181.39 604.73,181.34 605.33,181.29 605.93,181.24 606.53,181.19 607.13,181.14 607.72,181.09 608.32,181.04 608.92,180.99 609.52,180.94 610.12,180.89 610.73,180.83 611.33,180.78 611.93,180.72 612.53,180.68 613.13,180.62 613.73,180.57 614.33,180.51 614.93,180.47 615.53,180.41 616.13,180.36 616.73,180.30 617.33,180.25 617.93,180.19 618.53,180.14 619.12,180.09 619.73,180.03 620.32,179.98 620.92,179.92 621.53,179.87 622.13,179.81 622.73,179.75 623.32,179.70 623.93,179.64 624.53,179.59 625.13,179.53 625.73,179.48 626.33,179.42 626.93,179.36 627.52,179.30 628.13,179.25 628.72,179.19 629.32,179.13 629.92,179.08 630.52,179.02 631.12,178.96 631.72,178.90 632.32,178.84 632.92,178.79 633.53,178.73 634.13,178.67 634.73,178.61 635.33,178.55 635.93,178.49 636.52,178.43 637.12,178.37 637.72,178.31 638.32,178.25 638.92,178.19 639.52,178.14 640.13,178.07 640.73,178.01 641.33,177.95 641.92,177.89 642.52,177.83 643.13,177.77 643.73,177.71 644.33,177.65 644.93,177.59 645.53,177.53 646.12,177.47 646.72,177.41 647.32,177.35 647.92,177.28 648.52,177.22 649.13,177.16 649.73,177.10 650.33,177.04 650.93,176.97 651.53,176.91 652.13,176.85 652.72,176.79 653.33,176.72 653.92,176.66 654.52,176.60 655.12,176.54 655.72,176.47 656.33,176.41 656.92,176.35 657.52,176.28 658.13,176.22 658.73,176.16 659.32,176.09 659.92,176.03 660.52,175.97 661.13,175.90 661.73,175.84 662.33,175.77 662.93,175.71 663.53,175.65 664.13,175.58 664.73,175.52 665.33,175.45 665.93,175.39 666.53,175.33 667.12,175.26 667.72,175.19 668.32,175.13 668.93,175.07 669.53,175.00 670.12,174.94 670.72,174.87 671.32,174.81 671.92,174.74 672.52,174.67 673.12,174.61 673.73,174.54 674.33,174.48 674.92,174.41 675.52,174.35 676.12,174.28 676.73,174.22 677.33,174.15 677.93,174.08 678.53,174.02 679.12,173.95 679.72,173.89 680.33,173.82 680.92,173.75 681.53,173.69 682.12,173.62 682.73,173.56 683.33,173.49 683.80,173.44 683.96,173.41"/>
<path stroke="#7dd300" d="M118.13,45.90 333.30,45.90 334.12,50.46 334.93,50.41 335.74,50.36 336.53,50.31 337.32,50.27 338.10,50.22 338.87,50.18 339.64,50.13 340.39,50.09 341.14,50.05 341.88,54.12 342.61,54.04 343.34,53.96 344.06,53.88 344.77,53.80 345.48,53.73 346.18,53.66 346.87,53.58 347.56,53.51 348.24,57.22 348.91,57.11 349.58,57.01 350.24,56.92 350.89,56.82 351.54,56.72 352.19,56.63 352.83,56.54 353.46,56.45 354.09,59.85 354.71,59.73 355.33,59.62 355.94,59.50 356.55,59.39 357.15,59.29 357.75,59.18 358.34,59.07 358.93,62.24 359.52,62.11 360.10,61.98 360.67,61.86 361.24,61.74 361.81,61.62 362.37,61.50 362.93,61.38 363.48,64.34 364.03,64.21 364.58,64.07 365.12,63.94 365.65,63.81 366.19,63.68 366.72,63.56 367.24,66.36 367.77,66.21 368.28,66.07 368.80,65.93 369.31,65.79 369.82,65.66 370.32,65.53 370.83,65.39 371.32,68.03 371.82,67.88 372.31,67.74 372.80,67.60 373.28,67.46 373.76,67.32 374.24,67.18 374.72,69.69 375.19,69.54 375.66,69.39 376.13,69.24 376.59,69.10 377.05,68.95 377.51,68.81 377.97,71.20 378.42,71.05 378.87,70.90 379.32,70.75 379.76,70.60 380.20,70.45 380.64,70.31 381.08,72.59 381.51,72.44 381.94,72.28 382.37,72.13 382.80,71.98 383.22,71.83 383.65,71.69 384.06,73.87 384.48,73.72 384.90,73.56 385.31,73.41 385.72,73.26 386.13,73.11 386.53,72.96 386.94,75.06 387.34,74.90 387.74,74.75 388.13,74.59 388.53,74.44 388.92,74.29 389.31,74.14 389.70,76.16 390.09,76.00 390.47,75.84 390.85,75.69 391.24,75.54 391.61,75.39 391.99,75.24 392.37,77.18 392.74,77.02 393.11,76.87 393.48,76.71 393.85,76.56 394.21,76.41 394.58,76.26 394.94,78.13 395.30,77.97 395.66,77.82 396.02,77.67 396.37,77.52 396.73,77.37 397.08,77.22 397.43,79.02 397.78,78.86 398.12,78.71 398.47,78.56 398.81,78.41 399.15,78.26 399.50,78.11 399.83,79.85 400.17,79.70 400.51,79.54 400.84,79.39 401.18,79.24 401.51,79.10 401.84,80.79 402.17,80.63 402.49,80.48 402.82,80.33 403.14,80.18 403.47,80.03 403.79,79.88 404.11,81.52 404.43,81.37 404.74,81.21 405.06,81.07 405.38,80.92 405.69,80.77 406.00,80.62 406.31,82.21 406.62,82.06 406.93,81.91 407.24,81.76 407.54,81.61 407.85,81.47 408.15,81.32 408.45,82.86 408.75,82.71 409.05,82.56 409.35,82.42 409.65,82.27 409.94,82.13 410.24,83.62 410.53,83.47 410.83,83.33 411.12,83.18 411.41,83.04 411.70,82.89 411.98,82.75 412.27,84.20 412.56,84.06 412.84,83.91 413.12,83.77 413.41,83.62 413.69,83.48 413.97,83.34 414.25,84.75 414.53,84.61 414.80,84.46 415.08,84.32 415.36,84.18 415.63,84.04 415.90,85.42 416.17,85.27 416.45,85.13 416.72,84.99 416.99,84.85 417.25,84.71 417.52,84.57 417.79,85.91 418.05,85.77 418.32,85.63 418.58,85.49 418.84,85.35 419.10,85.21 419.37,86.52 419.63,86.38 419.88,86.24 420.14,86.10 420.40,85.96 420.66,85.83 420.91,85.69 421.17,86.97 421.42,86.83 421.67,86.69 421.92,86.55 422.18,86.42 422.43,86.28 422.67,86.15 422.92,87.40 423.17,87.26 423.42,87.12 423.66,86.98 423.91,86.85 424.15,86.71 424.40,87.94 424.64,87.80 424.88,87.66 425.12,87.53 425.36,87.40 425.60,87.26 425.84,87.13 426.08,88.32 426.32,88.19 426.56,88.05 426.79,87.92 427.03,87.79 427.26,87.66 427.49,88.83 427.73,88.69 427.96,88.56 428.19,88.43 428.42,88.29 428.65,88.16 428.88,88.03 429.11,89.18 429.34,89.04 429.57,88.91 429.79,88.78 430.02,88.65 430.24,88.52 430.47,88.39 430.69,89.51 430.92,89.38 431.14,89.25 431.36,89.12 431.58,89.00 431.80,88.87 432.02,89.97 432.24,89.84 432.46,89.71 432.68,89.58 432.89,89.45 433.11,89.33 433.33,89.20 433.54,90.27 433.76,90.15 433.97,90.02 434.19,89.89 434.40,89.77 434.61,89.64 434.82,90.70 435.03,90.57 435.24,90.44 435.45,90.32 435.66,90.19 435.87,90.07 436.08,89.94 436.29,90.98 436.50,90.85 436.70,90.73 436.91,90.60 437.11,90.48 437.32,90.36 437.52,91.37 437.73,91.25 437.93,91.13 438.13,91.00 438.33,90.88 438.54,90.76 438.74,90.64 438.94,91.63 439.14,91.51 439.34,91.39 439.53,91.27 439.73,91.15 439.93,91.03 440.13,90.91 440.32,91.88 440.52,91.76 440.72,91.64 440.91,91.52 441.11,91.40 441.30,91.29 441.49,92.25 441.69,92.12 441.88,92.01 442.07,91.89 442.26,91.77 442.45,91.65 442.65,91.53 442.84,92.48 443.02,92.36 443.21,92.24 443.40,92.12 443.59,92.01 443.78,91.89 443.97,92.82 444.15,92.70 444.34,92.58 444.52,92.47 444.71,92.35 444.90,92.23 445.08,92.12 445.26,93.03 445.45,92.91 445.63,92.80 445.81,92.68 446.00,92.57 446.18,92.46 446.36,93.35 446.54,93.24 446.72,93.12 446.90,93.01 447.08,92.89 447.26,92.78 447.44,92.67 447.62,93.55 447.79,93.44 447.97,93.32 448.15,93.21 448.32,93.10 448.50,92.99 448.68,92.88 448.85,93.74 449.03,93.63 449.20,93.52 449.38,93.41 449.55,93.30 449.72,93.19 449.90,94.04 450.07,93.93 450.24,93.82 450.41,93.71 450.58,93.60 450.75,93.49 450.92,93.38 451.10,94.22 451.26,94.11 451.43,94.00 451.60,93.89 451.77,93.78 451.94,93.67 452.11,94.50 452.28,94.39 452.44,94.28 452.61,94.17 452.78,94.06 452.94,93.96 453.11,93.85 453.27,94.66 453.44,94.56 453.60,94.45 453.77,94.34 453.93,94.23 454.09,94.13 454.26,94.93 454.42,94.82 454.58,94.72 454.74,94.61 454.90,94.51 455.07,94.40 455.23,94.30 455.39,95.09 455.55,94.98 455.71,94.87 455.87,94.77 456.03,94.67 456.19,94.56 456.34,94.46 456.50,95.24 456.66,95.13 456.82,95.03 456.98,94.92 457.13,94.82 457.29,94.72 457.44,95.49 457.60,95.38 457.76,95.28 457.91,95.18 458.07,95.07 458.22,94.97 458.38,94.87 458.53,95.63 458.68,95.52 458.84,95.42 458.99,95.32 459.14,95.22 459.29,95.12 459.45,95.86 459.60,95.76 459.75,95.66 459.90,95.56 460.05,95.46 460.20,95.36 460.35,95.26 460.50,95.99 460.65,95.89 460.80,95.79 460.95,95.69 461.10,95.59 461.25,95.50 461.40,95.40 461.54,96.12 461.69,96.02 461.84,95.92 461.99,95.82 462.13,95.73 462.28,95.63 462.42,96.34 462.57,96.25 462.72,96.15 462.86,96.05 463.01,95.95 463.15,95.86 463.30,95.76 463.44,96.46 463.58,96.37 463.73,96.27 463.87,96.17 464.01,96.08 464.16,95.98 464.30,96.68 464.44,96.58 464.58,96.48 464.72,96.39 464.87,96.29 465.01,96.20 465.15,96.10 465.29,96.79 465.43,96.69 465.57,96.60 465.71,96.50 465.85,96.41 465.99,96.31 466.13,96.22 466.26,96.90 466.40,96.80 466.54,96.71 466.68,96.62 466.82,96.52 466.95,96.43 467.09,97.10 467.23,97.01 467.37,96.91 467.50,96.82 467.64,96.73 467.77,96.63 467.91,96.54 468.05,97.20 468.18,97.11 468.32,97.02 468.45,96.92 468.59,96.83 468.72,96.74 468.85,96.65 468.99,97.30 469.12,97.21 469.25,97.12 469.39,97.03 469.52,96.94 469.65,96.85 469.78,97.49 469.92,97.40 470.05,97.31 470.18,97.22 470.31,97.13 470.44,97.04 470.57,96.95 470.70,97.59 470.83,97.50 470.97,97.41 471.10,97.32 471.23,97.23 471.35,97.14 471.48,97.05 471.61,97.68 471.74,97.59 471.87,97.50 472.00,97.41 472.13,97.32 472.26,97.23 472.38,97.86 472.51,97.77 472.64,97.68 472.77,97.59 472.89,97.50 473.02,97.42 473.15,97.33 473.27,97.94 473.40,97.86 473.52,97.77 473.65,97.68 473.77,97.59 473.90,97.51 474.02,97.42 474.15,98.03 474.27,97.94 474.40,97.86 474.52,97.77 474.65,97.68 474.77,97.60 474.89,98.20 475.02,98.11 475.14,98.03 475.26,97.94 475.39,97.85 475.51,97.77 475.63,97.68 475.75,98.28 475.88,98.19 476.00,98.11 476.12,98.02 476.24,97.94 476.36,97.85 476.48,97.77 476.60,98.36 476.72,98.27 476.84,98.19 476.96,98.10 477.08,98.02 477.20,97.94 477.32,98.52 477.44,98.43 477.56,98.35 477.68,98.27 477.80,98.18 477.92,98.10 478.04,98.02 478.15,98.59 478.27,98.51 478.39,98.43 478.51,98.34 478.63,98.26 478.74,98.18 478.86,98.09 478.98,98.66 479.09,98.58 479.21,98.50 479.33,98.42 479.44,98.34 479.56,98.25 479.68,98.82 479.79,98.74 479.91,98.65 480.02,98.57 480.14,98.49 480.25,98.41 480.37,98.33 480.48,98.89 480.60,98.80 480.71,98.72 480.82,98.64 480.94,98.56 481.05,98.48 481.17,98.40 481.28,98.95 481.39,98.87 481.51,98.79 481.62,98.71 481.73,98.63 481.84,98.55 481.96,99.10 482.07,99.02 482.18,98.94 482.29,98.86 482.40,98.78 482.51,98.70 482.63,98.62 482.74,99.16 482.85,99.08 482.96,99.00 483.07,98.92 483.18,98.85 483.29,98.77 483.40,98.69 483.51,99.22 483.62,99.15 483.73,99.07 483.84,98.99 483.95,98.91 484.06,98.83 484.17,98.76 484.28,99.29 484.39,99.21 484.49,99.13 484.60,99.05 484.71,98.98 484.82,98.90 484.93,99.42 485.03,99.35 485.14,99.27 485.25,99.19 485.36,99.11 485.46,99.04 485.57,98.96 485.68,99.48 485.79,99.40 485.89,99.33 486.00,99.25 486.10,99.17 486.21,99.10 486.32,99.02 486.42,99.54 486.53,99.46 486.63,99.39 486.74,99.31 486.84,99.23 486.95,99.16 487.05,99.08 487.16,99.59 487.26,99.52 487.37,99.44 487.47,99.37 487.58,99.29 487.68,99.22 487.78,99.72 487.89,99.65 487.99,99.57 488.10,99.50 488.20,99.42 488.30,99.35 488.40,99.28 488.51,99.77 488.61,99.70 488.71,99.63 488.82,99.55 488.92,99.48 489.02,99.41 489.12,99.33 489.22,99.83 489.33,99.75 489.43,99.68 489.53,99.61 489.63,99.53 489.73,99.46 489.83,99.39 489.93,99.88 490.03,99.80 490.14,99.73 490.24,99.66 490.34,99.59 490.44,99.51 490.54,100.00 490.64,99.93 490.74,99.85 490.84,99.78 490.94,99.71 491.03,99.64 491.13,99.57 491.23,100.05 491.33,99.98 491.43,99.90 491.53,99.83 491.63,99.76 491.73,99.69 491.83,99.62 491.92,100.10 492.02,100.02 492.12,99.95 492.22,99.88 492.32,99.81 492.41,99.74 492.51,99.67 492.61,100.14 492.71,100.07 492.80,100.00 492.90,99.93 493.00,99.86 493.09,99.79 493.19,100.26 493.29,100.19 493.38,100.12 493.48,100.05 493.58,99.98 493.67,99.91 493.77,99.84 493.86,100.30 493.96,100.23 494.05,100.16 494.15,100.09 494.24,100.02 494.34,99.95 494.43,99.89 494.53,100.35 494.62,100.28 494.72,100.21 494.81,100.14 494.91,100.07 495.00,100.00 495.10,99.93 495.19,100.39 495.28,100.32 495.38,100.25 495.47,100.18 495.57,100.11 495.66,100.05 495.75,99.98 495.85,100.43 495.94,100.36 496.03,100.29 496.12,100.23 496.22,100.16 496.31,100.09 496.40,100.54 496.49,100.47 496.59,100.40 496.68,100.34 496.77,100.27 496.86,100.20 496.96,100.14 497.05,100.58 497.14,100.51 497.23,100.45 497.32,100.38 497.41,100.31 497.50,100.24 497.60,100.18 497.69,100.62 497.78,100.55 497.87,100.49 497.96,100.42 498.05,100.35 498.14,100.29 498.23,100.22 498.32,100.66 498.41,100.59 498.50,100.53 498.59,100.46 498.68,100.39 498.77,100.33 498.86,100.26 498.95,100.70 499.04,100.63 499.13,100.56 499.22,100.50 499.30,100.43 499.39,100.37 499.48,100.80 499.57,100.73 499.66,100.67 499.75,100.60 499.84,100.54 499.92,100.47 500.01,100.41 500.10,100.83 500.19,100.77 500.28,100.70 500.36,100.64 500.45,100.58 500.54,100.51 500.63,100.45 500.71,100.87 500.80,100.81 500.89,100.74 500.98,100.68 501.06,100.61 501.15,100.55 501.24,100.49 501.32,100.91 501.41,100.84 501.50,100.78 501.58,100.71 501.67,100.65 501.75,100.59 501.84,100.52 501.93,100.94 502.01,100.88 502.10,100.81 502.18,100.75 502.27,100.69 502.35,100.62 502.44,100.56 502.52,100.97 502.61,100.91 502.69,100.85 502.78,100.79 502.86,100.72 502.95,100.66 503.03,100.60 503.12,101.01 503.20,100.94 503.29,100.88 503.37,100.82 503.46,100.76 503.54,100.70 503.62,101.10 503.71,101.04 503.79,100.98 503.87,100.92 503.96,100.85 504.04,100.79 504.13,100.73 504.21,101.13 504.29,101.07 504.38,101.01 504.46,100.95 504.54,100.89 504.62,100.83 504.71,100.77 504.79,101.17 504.87,101.10 504.95,101.04 505.04,100.98 505.12,100.92 505.20,100.86 505.28,100.80 505.37,101.20 505.45,101.14 505.53,101.07 505.61,101.01 505.69,100.95 505.77,100.89 505.86,100.83 505.94,101.23 506.02,101.17 506.10,101.11 506.18,101.05 506.26,100.99 506.34,100.93 506.42,100.87 506.50,101.26 506.59,101.20 506.67,101.14 506.75,101.08 506.83,101.02 506.91,100.96 506.99,100.90 507.07,101.29 507.15,101.23 507.23,101.17 507.31,101.11 507.39,101.05 507.47,100.99 507.55,100.93 507.63,101.32 507.71,101.26 507.79,101.20 507.86,101.14 507.94,101.08 508.02,101.02 508.10,101.40 508.18,101.34 508.26,101.29 508.34,101.23 508.42,101.17 508.50,101.11 508.57,101.05 508.65,101.43 508.73,101.37 508.81,101.31 508.89,101.26 508.97,101.20 509.04,101.14 509.12,101.08 509.20,101.46 509.28,101.40 509.36,101.34 509.43,101.28 509.51,101.23 509.59,101.17 509.67,101.11 509.74,101.49 509.82,101.43 509.90,101.37 509.97,101.31 510.05,101.26 510.13,101.20 510.21,101.14 510.28,101.51 510.36,101.45 510.44,101.40 510.51,101.34 510.59,101.28 510.67,101.23 510.74,101.17 510.82,101.54 510.89,101.48 510.97,101.42 511.05,101.37 511.12,101.31 511.20,101.25 511.27,101.20 511.35,101.56 511.42,101.51 511.50,101.45 511.58,101.39 511.65,101.34 511.73,101.28 511.80,101.23 511.88,101.59 511.95,101.53 512.03,101.48 512.10,101.42 512.18,101.37 512.25,101.31 512.33,101.25 512.40,101.61 512.48,101.56 512.55,101.50 512.92,101.46 513.55,101.48 514.13,101.60 514.71,101.62 515.33,101.64 515.93,101.66 516.54,101.66 517.13,101.74 517.73,101.77 518.35,101.77 518.93,101.79 519.51,101.83 520.12,101.88 520.72,101.88 521.32,101.88 521.91,101.97 522.50,101.97 523.12,101.96 523.73,102.04 524.33,102.04 524.93,102.04 525.53,102.12 526.12,102.11 526.71,102.13 527.32,102.15 527.93,102.13 528.53,102.18 529.13,102.19 529.72,102.20 530.31,102.25 530.93,102.25 531.53,102.30 532.14,102.30 532.74,102.31 533.33,102.28 533.92,102.36 534.50,102.33 535.11,102.40 535.71,102.36 536.31,102.40 536.90,102.39 537.52,102.42 538.13,102.46 538.73,102.41 539.33,102.47 539.93,102.47 540.54,102.48 541.13,102.48 541.71,102.48 542.31,102.52 542.91,102.50 543.52,102.52 544.13,102.53 544.72,102.53 545.32,102.54 545.94,102.52 546.53,102.55 547.12,102.56 547.72,102.55 548.32,102.55 548.92,102.55 549.51,102.59 550.12,102.57 550.73,102.59 551.32,102.57 551.92,102.57 552.51,102.58 553.12,102.58 553.72,102.59 554.32,102.59 554.93,102.59 555.54,102.58 556.12,102.59 556.72,102.59 557.33,102.58 557.92,102.58 558.51,102.57 559.11,102.57 559.72,102.56 560.33,102.57 560.92,102.57 561.52,102.56 562.13,102.57 562.72,102.55 563.31,102.54 563.93,102.54 564.54,102.53 565.13,102.53 565.73,102.53 566.33,102.52 566.93,102.50 567.53,102.50 568.14,102.49 568.73,102.49 569.33,102.47 569.93,102.48 570.53,102.46 571.13,102.44 571.73,102.45 572.34,102.42 572.93,102.42 573.53,102.41 574.13,102.39 574.73,102.39 575.33,102.37 575.93,102.37 576.53,102.35 577.13,102.35 577.72,102.32 578.32,102.32 578.92,102.30 579.51,102.28 580.12,102.28 580.72,102.25 581.32,102.24 581.93,102.23 582.53,102.21 583.13,102.20 583.74,102.19 584.34,102.17 584.93,102.15 585.52,102.13 586.12,102.12 586.72,102.10 587.33,102.09 587.92,102.07 588.53,102.05 589.13,102.04 589.73,102.02 590.33,102.00 590.93,101.98 591.53,101.96 592.13,101.94 592.73,101.93 593.32,101.91 593.92,101.89 594.52,101.86 595.12,101.85 595.72,101.83 596.32,101.81 596.92,101.79 597.53,101.77 598.13,101.74 598.73,101.72 599.32,101.71 599.92,101.68 600.53,101.66 601.12,101.64 601.72,101.61 602.33,101.60 602.92,101.56 603.52,101.56 604.12,101.52 604.73,101.51 605.33,101.47 605.93,101.46 606.53,101.43 607.13,101.40 607.72,101.39 608.32,101.36 608.92,101.33 609.52,101.32 610.12,101.29 610.73,101.26 611.33,101.23 611.93,101.21 612.53,101.19 613.13,101.16 613.73,101.13 614.33,101.11 614.93,101.08 615.53,101.05 616.13,101.03 616.73,101.00 617.33,100.97 617.93,100.95 618.53,100.92 619.12,100.90 619.73,100.86 620.32,100.83 620.92,100.81 621.53,100.79 622.13,100.75 622.73,100.73 623.32,100.70 623.93,100.66 624.53,100.64 625.13,100.61 625.73,100.58 626.33,100.55 626.93,100.52 627.52,100.50 628.13,100.46 628.72,100.44 629.32,100.41 629.92,100.38 630.52,100.35 631.12,100.32 631.72,100.29 632.32,100.26 632.92,100.22 633.53,100.19 634.13,100.16 634.73,100.13 635.33,100.10 635.93,100.07 636.52,100.04 637.12,100.01 637.72,99.98 638.32,99.95 638.92,99.91 639.52,99.88 640.13,99.85 640.73,99.82 641.33,99.79 641.92,99.75 642.52,99.72 643.13,99.69 643.73,99.66 644.33,99.63 644.93,99.59 645.53,99.56 646.12,99.53 646.72,99.49 647.32,99.46 647.92,99.43 648.52,99.39 649.13,99.36 649.73,99.33 650.33,99.29 650.93,99.26 651.53,99.23 652.13,99.19 652.72,99.16 653.33,99.12 653.92,99.09 654.52,99.06 655.12,99.02 655.72,98.99 656.33,98.95 656.92,98.92 657.52,98.88 658.13,98.85 658.73,98.82 659.32,98.78 659.92,98.75 660.52,98.71 661.13,98.68 661.73,98.64 662.33,98.61 662.93,98.57 663.53,98.54 664.13,98.50 664.73,98.47 665.33,98.43 665.93,98.39 666.53,98.36 667.12,98.32 667.72,98.29 668.32,98.25 668.93,98.22 669.53,98.18 670.12,98.14 670.72,98.11 671.32,98.07 671.92,98.04 672.52,98.00 673.12,97.96 673.73,97.93 674.33,97.89 674.92,97.85 675.52,97.82 676.12,97.78 676.73,97.74 677.33,97.71 677.93,97.67 678.53,97.63 679.12,97.60 679.72,97.56 680.33,97.52 680.92,97.49 681.53,97.45 682.12,97.41 682.73,97.38 683.33,97.34 683.80,97.31 683.96,97.31"/>
</g>
<circle cx="486.95" cy="340.29" r="7.2" fill="#7519c5"/>
<circle cx="504.54" cy="291.27" r="7.2" fill="#be157f"/>
<circle cx="517.03" cy="230.71" r="7.2" fill="#f23c00"/>
<circle cx="533.27" cy="185.05" r="7.2" fill="#ee9005"/>
<circle cx="553.09" cy="102.70" r="7.2" fill="#7dd300"/>
<path d="M118.03 -10V460.85H823.2" stroke="#000" stroke-width="1.75" fill="none" stroke-linejoin="bevel"/>
<text transform="matrix(0.4286 0 0 0.4364 81.14 60.10)" font-size="100" font-style="normal" fill="#000">1</text>
<text transform="matrix(0.4333 0 0 0.4338 48.37 267.43)" font-size="100" font-style="normal" fill="#000">0.5</text>
<text transform="matrix(0.4500 0 0 0.4309 81.00 475.84)" font-size="100" font-style="normal" fill="#000">0</text>
<text transform="matrix(0.4333 0 0 0.4412 138.53 510.82)" font-size="100" font-style="normal" fill="#000">10</text>
<text transform="matrix(0.3343 0 0 0.2970 181.02 494.90)" font-size="100" font-style="normal" fill="#000">1</text>
<text transform="matrix(0.4333 0 0 0.4412 309.94 510.82)" font-size="100" font-style="normal" fill="#000">10</text>
<text transform="matrix(0.3293 0 0 0.2940 353.32 494.61)" font-size="100" font-style="normal" fill="#000">2</text>
<text transform="matrix(0.4333 0 0 0.4412 481.35 510.82)" font-size="100" font-style="normal" fill="#000">10</text>
<text transform="matrix(0.3463 0 0 0.3149 524.02 495.69)" font-size="100" font-style="normal" fill="#000">3</text>
<text transform="matrix(0.4333 0 0 0.4412 652.76 510.82)" font-size="100" font-style="normal" fill="#000">10</text>
<text transform="matrix(0.3174 0 0 0.2970 696.13 494.60)" font-size="100" font-style="normal" fill="#000">4</text>
<text transform="matrix(0.3837 0 0 0.3333 700.45 329.66)" font-size="100" font-style="italic" fill="#7519c5">k</text>
<text transform="matrix(0.3667 0 0 0.3397 767.43 329.38)" font-size="100" font-style="normal" fill="#7519c5">0</text>
<text transform="matrix(0.3837 0 0 0.3333 700.45 284.80)" font-size="100" font-style="italic" fill="#be157f">k</text>
<text transform="matrix(0.3724 0 0 0.3397 766.55 284.52)" font-size="100" font-style="normal" fill="#be157f">10</text>
<text transform="matrix(0.3837 0 0 0.3333 700.45 228.12)" font-size="100" font-style="italic" fill="#f23c00">k</text>
<text transform="matrix(0.3659 0 0 0.3397 767.17 227.84)" font-size="100" font-style="normal" fill="#f23c00">30</text>
<text transform="matrix(0.3837 0 0 0.3333 700.45 185.46)" font-size="100" font-style="italic" fill="#ee9005">k</text>
<text transform="matrix(0.3700 0 0 0.3397 766.78 185.18)" font-size="100" font-style="normal" fill="#ee9005">50</text>
<text transform="matrix(0.3837 0 0 0.3333 700.45 109.36)" font-size="100" font-style="italic" fill="#7dd300">k</text>
<text transform="matrix(0.3642 0 0 0.3397 766.62 109.08)" font-size="100" font-style="normal" fill="#7dd300">100</text>
<text transform="matrix(0.3460 0 0 0.3044 461.08 324.58)" font-size="100" font-style="normal" fill="#7519c5">709</text>
<text transform="matrix(0.3387 0 0 0.3044 479.74 275.56)" font-size="100" font-style="normal" fill="#be157f">898</text>
<text transform="matrix(0.3392 0 0 0.3044 483.02 215.00)" font-size="100" font-style="normal" fill="#f23c00">1062</text>
<text transform="matrix(0.3411 0 0 0.3045 499.25 169.35)" font-size="100" font-style="normal" fill="#ee9005">1321</text>
<text transform="matrix(0.3339 0 0 0.3045 519.14 87.00)" font-size="100" font-style="normal" fill="#7dd300">1724</text>
<path d="M731.2 317.46H755.1" stroke="#7519c5" stroke-width="1.45" fill="none"/>
<path d="M731.2 324.26H755.1" stroke="#7519c5" stroke-width="1.45" fill="none"/>
<path d="M731.2 272.60H755.1" stroke="#be157f" stroke-width="1.45" fill="none"/>
<path d="M731.2 279.40H755.1" stroke="#be157f" stroke-width="1.45" fill="none"/>
<path d="M731.2 215.92H755.1" stroke="#f23c00" stroke-width="1.45" fill="none"/>
<path d="M731.2 222.72H755.1" stroke="#f23c00" stroke-width="1.45" fill="none"/>
<path d="M731.2 173.26H755.1" stroke="#ee9005" stroke-width="1.45" fill="none"/>
<path d="M731.2 180.06H755.1" stroke="#ee9005" stroke-width="1.45" fill="none"/>
<path d="M731.2 97.16H755.1" stroke="#7dd300" stroke-width="1.45" fill="none"/>
<path d="M731.2 103.96H755.1" stroke="#7dd300" stroke-width="1.45" fill="none"/>
<path d="M386.1 18.0H410.1" stroke="#7da0d2" stroke-width="1.45" fill="none"/>
<path d="M386.1 25.1H410.1" stroke="#7da0d2" stroke-width="1.45" fill="none"/>
<path d="M8.9,221.3 C8.9,229.5 13.5,234.7 19.3,234.7 C24.5,234.7 28.3,231.5 28.3,227.2 C28.3,225 27.3,223.2 25.8,221.8 L25.2,222.3 C26.3,223.6 26.9,225.3 26.9,227 C26.9,230 24.3,231.6 20.5,231.6 C14.8,231.6 10.9,227.5 10.7,221.3 Z" fill="#000"/><path d="M16.9,223.2 H18.1 V232.5 H16.9 Z" fill="#000"/>
<g transform="translate(447.20,571.50) scale(1.000,1.000) translate(-447.2,-571.5)" fill="none" stroke="#000" stroke-linecap="round" stroke-linejoin="round"><path stroke-width="1.25" d="M447.5,558.3 C448.5,554.9 450.3,552.7 452.0,552.7 M452.4,559.4 C454.6,555.2 457.3,552.7 460.2,552.7 M464.3,559.4 C466.5,555.2 469.6,552.7 472.6,552.7 M476.6,571.0 C478.6,571.0 480.6,568.5 481.7,564.9"/><path stroke-width="2.6" d="M452.0,552.9 C453.6,553.2 453.6,555.0 453.2,557.0 L450.5,570.4 M460.2,552.8 C463.8,552.8 465.2,555.0 464.5,558.2 L462.0,570.4 M472.6,552.8 C476.4,552.8 477.9,555.0 477.1,558.4 L474.6,567.2 C474.0,569.6 474.8,571.0 476.6,571.0"/></g>
<g transform="translate(332.20,30.40) scale(0.859,0.799) translate(-447.2,-571.5)" fill="none" stroke="#7da0d2" stroke-linecap="round" stroke-linejoin="round"><path stroke-width="1.5" d="M447.5,558.3 C448.5,554.9 450.3,552.7 452.0,552.7 M452.4,559.4 C454.6,555.2 457.3,552.7 460.2,552.7 M464.3,559.4 C466.5,555.2 469.6,552.7 472.6,552.7 M476.6,571.0 C478.6,571.0 480.6,568.5 481.7,564.9"/><path stroke-width="3.0" d="M452.0,552.9 C453.6,553.2 453.6,555.0 453.2,557.0 L450.5,570.4 M460.2,552.8 C463.8,552.8 465.2,555.0 464.5,558.2 L462.0,570.4 M472.6,552.8 C476.4,552.8 477.9,555.0 477.1,558.4 L474.6,567.2 C474.0,569.6 474.8,571.0 476.6,571.0"/></g>
<g transform="translate(423.20,30.40) scale(0.859,0.799) translate(-447.2,-571.5)" fill="none" stroke="#7da0d2" stroke-linecap="round" stroke-linejoin="round"><path stroke-width="1.5" d="M447.5,558.3 C448.5,554.9 450.3,552.7 452.0,552.7 M452.4,559.4 C454.6,555.2 457.3,552.7 460.2,552.7 M464.3,559.4 C466.5,555.2 469.6,552.7 472.6,552.7 M476.6,571.0 C478.6,571.0 480.6,568.5 481.7,564.9"/><path stroke-width="3.0" d="M452.0,552.9 C453.6,553.2 453.6,555.0 453.2,557.0 L450.5,570.4 M460.2,552.8 C463.8,552.8 465.2,555.0 464.5,558.2 L462.0,570.4 M472.6,552.8 C476.4,552.8 477.9,555.0 477.1,558.4 L474.6,567.2 C474.0,569.6 474.8,571.0 476.6,571.0"/></g>
<path d="M484.70,554.30 L486.20,554.80 L492.20,540.80 L491.30,539.20 L489.30,539.20 Z" fill="#000"/>
<path d="M364.90,16.29 L366.13,16.70 L371.05,5.22 L370.31,3.91 L368.67,3.91 Z" fill="#7da0d2"/>
</svg></body></html>
